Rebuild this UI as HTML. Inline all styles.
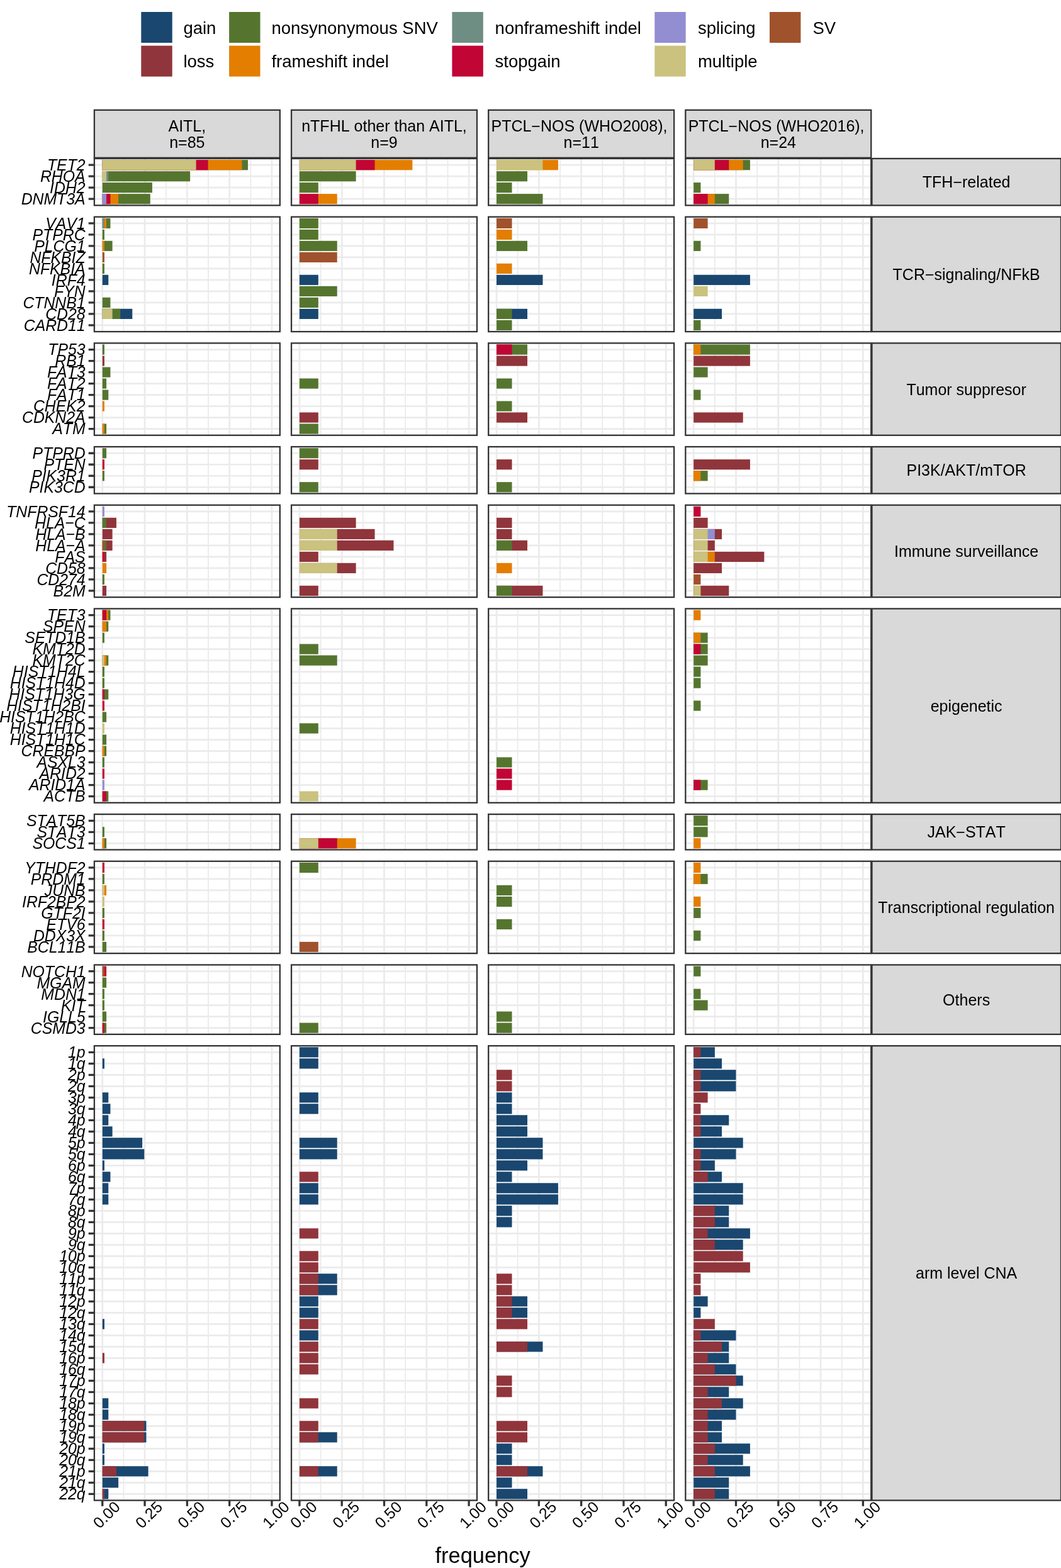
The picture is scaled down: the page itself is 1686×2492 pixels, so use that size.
<!DOCTYPE html>
<html><head><meta charset="utf-8"><title>mutation frequency</title>
<style>
html,body{margin:0;padding:0;background:#fff;}
body{width:1686px;height:2492px;overflow:hidden;}
svg{display:block;}
text{font-kerning:none;font-family:"Liberation Sans",sans-serif;fill:#000;}
.lg{font-size:27.5px;}
.st{font-size:25px;text-anchor:middle;}
.yl{font-size:24.8px;font-style:italic;text-anchor:end;}
.xl{font-size:24.8px;text-anchor:middle;}
.ti{font-size:34.4px;text-anchor:middle;}
</style></head><body>
<svg width="1686" height="2492" viewBox="0 0 1686 2492">
<rect width="1686" height="2492" fill="#ffffff"/>
<rect x="224.3" y="19" width="49.4" height="49" fill="#1a476f"/>
<text x="291.4" y="53.5" class="lg">gain</text>
<rect x="224.3" y="72.65" width="49.4" height="49" fill="#90353b"/>
<text x="291.4" y="107.15" class="lg">loss</text>
<rect x="364.1" y="19" width="49.4" height="49" fill="#55752f"/>
<text x="431.4" y="53.5" class="lg">nonsynonymous SNV</text>
<rect x="364.1" y="72.65" width="49.4" height="49" fill="#e37e00"/>
<text x="431.4" y="107.15" class="lg">frameshift indel</text>
<rect x="718.4" y="19" width="49.4" height="49" fill="#6e8e84"/>
<text x="786.6" y="53.5" class="lg">nonframeshift indel</text>
<rect x="718.4" y="72.65" width="49.4" height="49" fill="#c10534"/>
<text x="786.6" y="107.15" class="lg">stopgain</text>
<rect x="1040.3" y="19" width="49.4" height="49" fill="#938dd2"/>
<text x="1108.9" y="53.5" class="lg">splicing</text>
<rect x="1040.3" y="72.65" width="49.4" height="49" fill="#cac27e"/>
<text x="1108.9" y="107.15" class="lg">multiple</text>
<rect x="1223" y="19" width="49.4" height="49" fill="#a0522d"/>
<text x="1291.5" y="53.5" class="lg">SV</text>
<rect x="149.29" y="174.3" width="296.12" height="77.1" fill="#D9D9D9"/>
<rect x="462.44" y="174.3" width="296.12" height="77.1" fill="#D9D9D9"/>
<rect x="775.59" y="174.3" width="296.12" height="77.1" fill="#D9D9D9"/>
<rect x="1088.74" y="174.3" width="296.12" height="77.1" fill="#D9D9D9"/>
<rect x="149.89" y="174.9" width="294.92" height="75.9" fill="none" stroke="#333333" stroke-width="2.3"/>
<text x="297.35" y="208.9" class="st">AITL,</text>
<text x="297.35" y="235" class="st">n=85</text>
<rect x="463.04" y="174.9" width="294.92" height="75.9" fill="none" stroke="#333333" stroke-width="2.3"/>
<text x="610.5" y="208.9" class="st">nTFHL other than AITL,</text>
<text x="610.5" y="235" class="st">n=9</text>
<rect x="776.19" y="174.9" width="294.92" height="75.9" fill="none" stroke="#333333" stroke-width="2.3"/>
<text x="920.45" y="208.9" class="st">PTCL−NOS (WHO2008),</text>
<text x="923.65" y="235" class="st">n=11</text>
<rect x="1089.34" y="174.9" width="294.92" height="75.9" fill="none" stroke="#333333" stroke-width="2.3"/>
<text x="1233.6" y="208.9" class="st">PTCL−NOS (WHO2016),</text>
<text x="1236.8" y="235" class="st">n=24</text>
<rect x="149.29" y="251.4" width="296.12" height="75.6" fill="#ffffff"/>
<path d="M196.4 251.4V327M263.7 251.4V327M331 251.4V327M398.3 251.4V327" stroke="#EBEBEB" stroke-width="1.8" fill="none"/>
<path d="M162.75 251.4V327M230.05 251.4V327M297.35 251.4V327M364.65 251.4V327M431.95 251.4V327M149.29 262.2H445.41M149.29 280.2H445.41M149.29 298.2H445.41M149.29 316.2H445.41" stroke="#EBEBEB" stroke-width="2.7" fill="none"/>
<rect x="162.75" y="254.1" width="231.2" height="16.2" fill="#55752f"/>
<rect x="162.75" y="254.1" width="221.69" height="16.2" fill="#e37e00"/>
<rect x="162.75" y="254.1" width="167.85" height="16.2" fill="#c10534"/>
<rect x="162.75" y="254.1" width="148.85" height="16.2" fill="#cac27e"/>
<rect x="162.75" y="272.1" width="139.35" height="16.2" fill="#55752f"/>
<rect x="162.75" y="272.1" width="9.5" height="16.2" fill="#6e8e84"/>
<rect x="162.75" y="272.1" width="6.33" height="16.2" fill="#cac27e"/>
<rect x="162.75" y="290.1" width="79.18" height="16.2" fill="#55752f"/>
<rect x="162.75" y="308.1" width="76.01" height="16.2" fill="#55752f"/>
<rect x="162.75" y="308.1" width="25.34" height="16.2" fill="#e37e00"/>
<rect x="162.75" y="308.1" width="12.67" height="16.2" fill="#c10534"/>
<rect x="162.75" y="308.1" width="6.33" height="16.2" fill="#938dd2"/>
<rect x="149.89" y="252" width="294.92" height="74.4" fill="none" stroke="#333333" stroke-width="2.3"/>
<rect x="462.44" y="251.4" width="296.12" height="75.6" fill="#ffffff"/>
<path d="M509.55 251.4V327M576.85 251.4V327M644.15 251.4V327M711.45 251.4V327" stroke="#EBEBEB" stroke-width="1.8" fill="none"/>
<path d="M475.9 251.4V327M543.2 251.4V327M610.5 251.4V327M677.8 251.4V327M745.1 251.4V327M462.44 262.2H758.56M462.44 280.2H758.56M462.44 298.2H758.56M462.44 316.2H758.56" stroke="#EBEBEB" stroke-width="2.7" fill="none"/>
<rect x="475.9" y="254.1" width="179.47" height="16.2" fill="#e37e00"/>
<rect x="475.9" y="254.1" width="119.64" height="16.2" fill="#c10534"/>
<rect x="475.9" y="254.1" width="89.73" height="16.2" fill="#cac27e"/>
<rect x="475.9" y="272.1" width="89.73" height="16.2" fill="#55752f"/>
<rect x="475.9" y="290.1" width="29.91" height="16.2" fill="#55752f"/>
<rect x="475.9" y="308.1" width="59.82" height="16.2" fill="#e37e00"/>
<rect x="475.9" y="308.1" width="29.91" height="16.2" fill="#c10534"/>
<rect x="463.04" y="252" width="294.92" height="74.4" fill="none" stroke="#333333" stroke-width="2.3"/>
<rect x="775.59" y="251.4" width="296.12" height="75.6" fill="#ffffff"/>
<path d="M822.7 251.4V327M890 251.4V327M957.3 251.4V327M1024.6 251.4V327" stroke="#EBEBEB" stroke-width="1.8" fill="none"/>
<path d="M789.05 251.4V327M856.35 251.4V327M923.65 251.4V327M990.95 251.4V327M1058.25 251.4V327M775.59 262.2H1071.71M775.59 280.2H1071.71M775.59 298.2H1071.71M775.59 316.2H1071.71" stroke="#EBEBEB" stroke-width="2.7" fill="none"/>
<rect x="789.05" y="254.1" width="97.89" height="16.2" fill="#e37e00"/>
<rect x="789.05" y="254.1" width="73.42" height="16.2" fill="#cac27e"/>
<rect x="789.05" y="272.1" width="48.95" height="16.2" fill="#55752f"/>
<rect x="789.05" y="290.1" width="24.47" height="16.2" fill="#55752f"/>
<rect x="789.05" y="308.1" width="73.42" height="16.2" fill="#55752f"/>
<rect x="776.19" y="252" width="294.92" height="74.4" fill="none" stroke="#333333" stroke-width="2.3"/>
<rect x="1088.74" y="251.4" width="296.12" height="75.6" fill="#ffffff"/>
<path d="M1135.85 251.4V327M1203.15 251.4V327M1270.45 251.4V327M1337.75 251.4V327" stroke="#EBEBEB" stroke-width="1.8" fill="none"/>
<path d="M1102.2 251.4V327M1169.5 251.4V327M1236.8 251.4V327M1304.1 251.4V327M1371.4 251.4V327M1088.74 262.2H1384.86M1088.74 280.2H1384.86M1088.74 298.2H1384.86M1088.74 316.2H1384.86" stroke="#EBEBEB" stroke-width="2.7" fill="none"/>
<rect x="1102.2" y="254.1" width="89.73" height="16.2" fill="#55752f"/>
<rect x="1102.2" y="254.1" width="78.52" height="16.2" fill="#e37e00"/>
<rect x="1102.2" y="254.1" width="56.08" height="16.2" fill="#c10534"/>
<rect x="1102.2" y="254.1" width="33.65" height="16.2" fill="#cac27e"/>
<rect x="1102.2" y="290.1" width="11.22" height="16.2" fill="#55752f"/>
<rect x="1102.2" y="308.1" width="56.08" height="16.2" fill="#55752f"/>
<rect x="1102.2" y="308.1" width="33.65" height="16.2" fill="#e37e00"/>
<rect x="1102.2" y="308.1" width="22.43" height="16.2" fill="#c10534"/>
<rect x="1089.34" y="252" width="294.92" height="74.4" fill="none" stroke="#333333" stroke-width="2.3"/>
<rect x="1384.86" y="251.4" width="301.74" height="75.6" fill="#D9D9D9"/>
<rect x="1385.46" y="252" width="300.54" height="74.4" fill="none" stroke="#333333" stroke-width="2.3"/>
<text x="1535.63" y="298.15" class="st">TFH−related</text>
<path d="M140.69 262.2H149.29M140.69 280.2H149.29M140.69 298.2H149.29M140.69 316.2H149.29" stroke="#333333" stroke-width="3.3" fill="none"/>
<text transform="translate(135.59 271.08) scale(1 1.044)" class="yl">TET2</text>
<text transform="translate(135.59 289.08) scale(1 1.044)" class="yl">RHOA</text>
<text transform="translate(135.59 307.08) scale(1 1.044)" class="yl">IDH2</text>
<text transform="translate(135.59 325.08) scale(1 1.044)" class="yl">DNMT3A</text>
<rect x="149.29" y="344.08" width="296.12" height="183.6" fill="#ffffff"/>
<path d="M196.4 344.08V527.68M263.7 344.08V527.68M331 344.08V527.68M398.3 344.08V527.68" stroke="#EBEBEB" stroke-width="1.8" fill="none"/>
<path d="M162.75 344.08V527.68M230.05 344.08V527.68M297.35 344.08V527.68M364.65 344.08V527.68M431.95 344.08V527.68M149.29 354.88H445.41M149.29 372.88H445.41M149.29 390.88H445.41M149.29 408.88H445.41M149.29 426.88H445.41M149.29 444.88H445.41M149.29 462.88H445.41M149.29 480.88H445.41M149.29 498.88H445.41M149.29 516.88H445.41" stroke="#EBEBEB" stroke-width="2.7" fill="none"/>
<rect x="162.75" y="346.78" width="12.67" height="16.2" fill="#55752f"/>
<rect x="162.75" y="346.78" width="6.33" height="16.2" fill="#e37e00"/>
<rect x="162.75" y="346.78" width="3.17" height="16.2" fill="#6e8e84"/>
<rect x="162.75" y="364.78" width="3.17" height="16.2" fill="#55752f"/>
<rect x="162.75" y="382.78" width="15.84" height="16.2" fill="#55752f"/>
<rect x="162.75" y="382.78" width="3.17" height="16.2" fill="#e37e00"/>
<rect x="162.75" y="400.78" width="3.17" height="16.2" fill="#a0522d"/>
<rect x="162.75" y="418.78" width="3.17" height="16.2" fill="#55752f"/>
<rect x="162.75" y="436.78" width="9.5" height="16.2" fill="#1a476f"/>
<rect x="162.75" y="472.78" width="12.67" height="16.2" fill="#55752f"/>
<rect x="162.75" y="490.78" width="47.51" height="16.2" fill="#1a476f"/>
<rect x="162.75" y="490.78" width="28.5" height="16.2" fill="#55752f"/>
<rect x="162.75" y="490.78" width="15.84" height="16.2" fill="#cac27e"/>
<rect x="149.89" y="344.68" width="294.92" height="182.4" fill="none" stroke="#333333" stroke-width="2.3"/>
<rect x="462.44" y="344.08" width="296.12" height="183.6" fill="#ffffff"/>
<path d="M509.55 344.08V527.68M576.85 344.08V527.68M644.15 344.08V527.68M711.45 344.08V527.68" stroke="#EBEBEB" stroke-width="1.8" fill="none"/>
<path d="M475.9 344.08V527.68M543.2 344.08V527.68M610.5 344.08V527.68M677.8 344.08V527.68M745.1 344.08V527.68M462.44 354.88H758.56M462.44 372.88H758.56M462.44 390.88H758.56M462.44 408.88H758.56M462.44 426.88H758.56M462.44 444.88H758.56M462.44 462.88H758.56M462.44 480.88H758.56M462.44 498.88H758.56M462.44 516.88H758.56" stroke="#EBEBEB" stroke-width="2.7" fill="none"/>
<rect x="475.9" y="346.78" width="29.91" height="16.2" fill="#55752f"/>
<rect x="475.9" y="364.78" width="29.91" height="16.2" fill="#55752f"/>
<rect x="475.9" y="382.78" width="59.82" height="16.2" fill="#55752f"/>
<rect x="475.9" y="400.78" width="59.82" height="16.2" fill="#a0522d"/>
<rect x="475.9" y="436.78" width="29.91" height="16.2" fill="#1a476f"/>
<rect x="475.9" y="454.78" width="59.82" height="16.2" fill="#55752f"/>
<rect x="475.9" y="472.78" width="29.91" height="16.2" fill="#55752f"/>
<rect x="475.9" y="490.78" width="29.91" height="16.2" fill="#1a476f"/>
<rect x="463.04" y="344.68" width="294.92" height="182.4" fill="none" stroke="#333333" stroke-width="2.3"/>
<rect x="775.59" y="344.08" width="296.12" height="183.6" fill="#ffffff"/>
<path d="M822.7 344.08V527.68M890 344.08V527.68M957.3 344.08V527.68M1024.6 344.08V527.68" stroke="#EBEBEB" stroke-width="1.8" fill="none"/>
<path d="M789.05 344.08V527.68M856.35 344.08V527.68M923.65 344.08V527.68M990.95 344.08V527.68M1058.25 344.08V527.68M775.59 354.88H1071.71M775.59 372.88H1071.71M775.59 390.88H1071.71M775.59 408.88H1071.71M775.59 426.88H1071.71M775.59 444.88H1071.71M775.59 462.88H1071.71M775.59 480.88H1071.71M775.59 498.88H1071.71M775.59 516.88H1071.71" stroke="#EBEBEB" stroke-width="2.7" fill="none"/>
<rect x="789.05" y="346.78" width="24.47" height="16.2" fill="#a0522d"/>
<rect x="789.05" y="364.78" width="24.47" height="16.2" fill="#e37e00"/>
<rect x="789.05" y="382.78" width="48.95" height="16.2" fill="#55752f"/>
<rect x="789.05" y="418.78" width="24.47" height="16.2" fill="#e37e00"/>
<rect x="789.05" y="436.78" width="73.42" height="16.2" fill="#1a476f"/>
<rect x="789.05" y="490.78" width="48.95" height="16.2" fill="#1a476f"/>
<rect x="789.05" y="490.78" width="24.47" height="16.2" fill="#55752f"/>
<rect x="789.05" y="508.78" width="24.47" height="16.2" fill="#55752f"/>
<rect x="776.19" y="344.68" width="294.92" height="182.4" fill="none" stroke="#333333" stroke-width="2.3"/>
<rect x="1088.74" y="344.08" width="296.12" height="183.6" fill="#ffffff"/>
<path d="M1135.85 344.08V527.68M1203.15 344.08V527.68M1270.45 344.08V527.68M1337.75 344.08V527.68" stroke="#EBEBEB" stroke-width="1.8" fill="none"/>
<path d="M1102.2 344.08V527.68M1169.5 344.08V527.68M1236.8 344.08V527.68M1304.1 344.08V527.68M1371.4 344.08V527.68M1088.74 354.88H1384.86M1088.74 372.88H1384.86M1088.74 390.88H1384.86M1088.74 408.88H1384.86M1088.74 426.88H1384.86M1088.74 444.88H1384.86M1088.74 462.88H1384.86M1088.74 480.88H1384.86M1088.74 498.88H1384.86M1088.74 516.88H1384.86" stroke="#EBEBEB" stroke-width="2.7" fill="none"/>
<rect x="1102.2" y="346.78" width="22.43" height="16.2" fill="#a0522d"/>
<rect x="1102.2" y="382.78" width="11.22" height="16.2" fill="#55752f"/>
<rect x="1102.2" y="436.78" width="89.73" height="16.2" fill="#1a476f"/>
<rect x="1102.2" y="454.78" width="22.43" height="16.2" fill="#cac27e"/>
<rect x="1102.2" y="490.78" width="44.87" height="16.2" fill="#1a476f"/>
<rect x="1102.2" y="508.78" width="11.22" height="16.2" fill="#55752f"/>
<rect x="1089.34" y="344.68" width="294.92" height="182.4" fill="none" stroke="#333333" stroke-width="2.3"/>
<rect x="1384.86" y="344.08" width="301.74" height="183.6" fill="#D9D9D9"/>
<rect x="1385.46" y="344.68" width="300.54" height="182.4" fill="none" stroke="#333333" stroke-width="2.3"/>
<text x="1535.63" y="444.83" class="st">TCR−signaling/NFkB</text>
<path d="M140.69 354.88H149.29M140.69 372.88H149.29M140.69 390.88H149.29M140.69 408.88H149.29M140.69 426.88H149.29M140.69 444.88H149.29M140.69 462.88H149.29M140.69 480.88H149.29M140.69 498.88H149.29M140.69 516.88H149.29" stroke="#333333" stroke-width="3.3" fill="none"/>
<text transform="translate(135.59 363.76) scale(1 1.044)" class="yl">VAV1</text>
<text transform="translate(135.59 381.76) scale(1 1.044)" class="yl">PTPRC</text>
<text transform="translate(135.59 399.76) scale(1 1.044)" class="yl">PLCG1</text>
<text transform="translate(135.59 417.76) scale(1 1.044)" class="yl">NFKBIZ</text>
<text transform="translate(135.59 435.76) scale(1 1.044)" class="yl">NFKBIA</text>
<text transform="translate(135.59 453.76) scale(1 1.044)" class="yl">IRF4</text>
<text transform="translate(135.59 471.76) scale(1 1.044)" class="yl">FYN</text>
<text transform="translate(135.59 489.76) scale(1 1.044)" class="yl">CTNNB1</text>
<text transform="translate(135.59 507.76) scale(1 1.044)" class="yl">CD28</text>
<text transform="translate(135.59 525.76) scale(1 1.044)" class="yl">CARD11</text>
<rect x="149.29" y="544.76" width="296.12" height="147.6" fill="#ffffff"/>
<path d="M196.4 544.76V692.36M263.7 544.76V692.36M331 544.76V692.36M398.3 544.76V692.36" stroke="#EBEBEB" stroke-width="1.8" fill="none"/>
<path d="M162.75 544.76V692.36M230.05 544.76V692.36M297.35 544.76V692.36M364.65 544.76V692.36M431.95 544.76V692.36M149.29 555.56H445.41M149.29 573.56H445.41M149.29 591.56H445.41M149.29 609.56H445.41M149.29 627.56H445.41M149.29 645.56H445.41M149.29 663.56H445.41M149.29 681.56H445.41" stroke="#EBEBEB" stroke-width="2.7" fill="none"/>
<rect x="162.75" y="547.46" width="3.17" height="16.2" fill="#55752f"/>
<rect x="162.75" y="565.46" width="3.17" height="16.2" fill="#90353b"/>
<rect x="162.75" y="583.46" width="12.67" height="16.2" fill="#55752f"/>
<rect x="162.75" y="601.46" width="6.33" height="16.2" fill="#55752f"/>
<rect x="162.75" y="619.46" width="9.5" height="16.2" fill="#55752f"/>
<rect x="162.75" y="637.46" width="3.17" height="16.2" fill="#e37e00"/>
<rect x="162.75" y="673.46" width="6.33" height="16.2" fill="#55752f"/>
<rect x="162.75" y="673.46" width="3.17" height="16.2" fill="#e37e00"/>
<rect x="149.89" y="545.36" width="294.92" height="146.4" fill="none" stroke="#333333" stroke-width="2.3"/>
<rect x="462.44" y="544.76" width="296.12" height="147.6" fill="#ffffff"/>
<path d="M509.55 544.76V692.36M576.85 544.76V692.36M644.15 544.76V692.36M711.45 544.76V692.36" stroke="#EBEBEB" stroke-width="1.8" fill="none"/>
<path d="M475.9 544.76V692.36M543.2 544.76V692.36M610.5 544.76V692.36M677.8 544.76V692.36M745.1 544.76V692.36M462.44 555.56H758.56M462.44 573.56H758.56M462.44 591.56H758.56M462.44 609.56H758.56M462.44 627.56H758.56M462.44 645.56H758.56M462.44 663.56H758.56M462.44 681.56H758.56" stroke="#EBEBEB" stroke-width="2.7" fill="none"/>
<rect x="475.9" y="601.46" width="29.91" height="16.2" fill="#55752f"/>
<rect x="475.9" y="655.46" width="29.91" height="16.2" fill="#90353b"/>
<rect x="475.9" y="673.46" width="29.91" height="16.2" fill="#55752f"/>
<rect x="463.04" y="545.36" width="294.92" height="146.4" fill="none" stroke="#333333" stroke-width="2.3"/>
<rect x="775.59" y="544.76" width="296.12" height="147.6" fill="#ffffff"/>
<path d="M822.7 544.76V692.36M890 544.76V692.36M957.3 544.76V692.36M1024.6 544.76V692.36" stroke="#EBEBEB" stroke-width="1.8" fill="none"/>
<path d="M789.05 544.76V692.36M856.35 544.76V692.36M923.65 544.76V692.36M990.95 544.76V692.36M1058.25 544.76V692.36M775.59 555.56H1071.71M775.59 573.56H1071.71M775.59 591.56H1071.71M775.59 609.56H1071.71M775.59 627.56H1071.71M775.59 645.56H1071.71M775.59 663.56H1071.71M775.59 681.56H1071.71" stroke="#EBEBEB" stroke-width="2.7" fill="none"/>
<rect x="789.05" y="547.46" width="48.95" height="16.2" fill="#55752f"/>
<rect x="789.05" y="547.46" width="24.47" height="16.2" fill="#c10534"/>
<rect x="789.05" y="565.46" width="48.95" height="16.2" fill="#90353b"/>
<rect x="789.05" y="601.46" width="24.47" height="16.2" fill="#55752f"/>
<rect x="789.05" y="637.46" width="24.47" height="16.2" fill="#55752f"/>
<rect x="789.05" y="655.46" width="48.95" height="16.2" fill="#90353b"/>
<rect x="776.19" y="545.36" width="294.92" height="146.4" fill="none" stroke="#333333" stroke-width="2.3"/>
<rect x="1088.74" y="544.76" width="296.12" height="147.6" fill="#ffffff"/>
<path d="M1135.85 544.76V692.36M1203.15 544.76V692.36M1270.45 544.76V692.36M1337.75 544.76V692.36" stroke="#EBEBEB" stroke-width="1.8" fill="none"/>
<path d="M1102.2 544.76V692.36M1169.5 544.76V692.36M1236.8 544.76V692.36M1304.1 544.76V692.36M1371.4 544.76V692.36M1088.74 555.56H1384.86M1088.74 573.56H1384.86M1088.74 591.56H1384.86M1088.74 609.56H1384.86M1088.74 627.56H1384.86M1088.74 645.56H1384.86M1088.74 663.56H1384.86M1088.74 681.56H1384.86" stroke="#EBEBEB" stroke-width="2.7" fill="none"/>
<rect x="1102.2" y="547.46" width="89.73" height="16.2" fill="#55752f"/>
<rect x="1102.2" y="547.46" width="11.22" height="16.2" fill="#e37e00"/>
<rect x="1102.2" y="565.46" width="89.73" height="16.2" fill="#90353b"/>
<rect x="1102.2" y="583.46" width="22.43" height="16.2" fill="#55752f"/>
<rect x="1102.2" y="619.46" width="11.22" height="16.2" fill="#55752f"/>
<rect x="1102.2" y="655.46" width="78.52" height="16.2" fill="#90353b"/>
<rect x="1089.34" y="545.36" width="294.92" height="146.4" fill="none" stroke="#333333" stroke-width="2.3"/>
<rect x="1384.86" y="544.76" width="301.74" height="147.6" fill="#D9D9D9"/>
<rect x="1385.46" y="545.36" width="300.54" height="146.4" fill="none" stroke="#333333" stroke-width="2.3"/>
<text x="1535.63" y="627.51" class="st">Tumor suppresor</text>
<path d="M140.69 555.56H149.29M140.69 573.56H149.29M140.69 591.56H149.29M140.69 609.56H149.29M140.69 627.56H149.29M140.69 645.56H149.29M140.69 663.56H149.29M140.69 681.56H149.29" stroke="#333333" stroke-width="3.3" fill="none"/>
<text transform="translate(135.59 564.44) scale(1 1.044)" class="yl">TP53</text>
<text transform="translate(135.59 582.44) scale(1 1.044)" class="yl">RB1</text>
<text transform="translate(135.59 600.44) scale(1 1.044)" class="yl">FAT3</text>
<text transform="translate(135.59 618.44) scale(1 1.044)" class="yl">FAT2</text>
<text transform="translate(135.59 636.44) scale(1 1.044)" class="yl">FAT1</text>
<text transform="translate(135.59 654.44) scale(1 1.044)" class="yl">CHEK2</text>
<text transform="translate(135.59 672.44) scale(1 1.044)" class="yl">CDKN2A</text>
<text transform="translate(135.59 690.44) scale(1 1.044)" class="yl">ATM</text>
<rect x="149.29" y="709.44" width="296.12" height="75.6" fill="#ffffff"/>
<path d="M196.4 709.44V785.04M263.7 709.44V785.04M331 709.44V785.04M398.3 709.44V785.04" stroke="#EBEBEB" stroke-width="1.8" fill="none"/>
<path d="M162.75 709.44V785.04M230.05 709.44V785.04M297.35 709.44V785.04M364.65 709.44V785.04M431.95 709.44V785.04M149.29 720.24H445.41M149.29 738.24H445.41M149.29 756.24H445.41M149.29 774.24H445.41" stroke="#EBEBEB" stroke-width="2.7" fill="none"/>
<rect x="162.75" y="712.14" width="6.33" height="16.2" fill="#55752f"/>
<rect x="162.75" y="730.14" width="3.17" height="16.2" fill="#c10534"/>
<rect x="162.75" y="748.14" width="3.17" height="16.2" fill="#55752f"/>
<rect x="149.89" y="710.04" width="294.92" height="74.4" fill="none" stroke="#333333" stroke-width="2.3"/>
<rect x="462.44" y="709.44" width="296.12" height="75.6" fill="#ffffff"/>
<path d="M509.55 709.44V785.04M576.85 709.44V785.04M644.15 709.44V785.04M711.45 709.44V785.04" stroke="#EBEBEB" stroke-width="1.8" fill="none"/>
<path d="M475.9 709.44V785.04M543.2 709.44V785.04M610.5 709.44V785.04M677.8 709.44V785.04M745.1 709.44V785.04M462.44 720.24H758.56M462.44 738.24H758.56M462.44 756.24H758.56M462.44 774.24H758.56" stroke="#EBEBEB" stroke-width="2.7" fill="none"/>
<rect x="475.9" y="712.14" width="29.91" height="16.2" fill="#55752f"/>
<rect x="475.9" y="730.14" width="29.91" height="16.2" fill="#90353b"/>
<rect x="475.9" y="766.14" width="29.91" height="16.2" fill="#55752f"/>
<rect x="463.04" y="710.04" width="294.92" height="74.4" fill="none" stroke="#333333" stroke-width="2.3"/>
<rect x="775.59" y="709.44" width="296.12" height="75.6" fill="#ffffff"/>
<path d="M822.7 709.44V785.04M890 709.44V785.04M957.3 709.44V785.04M1024.6 709.44V785.04" stroke="#EBEBEB" stroke-width="1.8" fill="none"/>
<path d="M789.05 709.44V785.04M856.35 709.44V785.04M923.65 709.44V785.04M990.95 709.44V785.04M1058.25 709.44V785.04M775.59 720.24H1071.71M775.59 738.24H1071.71M775.59 756.24H1071.71M775.59 774.24H1071.71" stroke="#EBEBEB" stroke-width="2.7" fill="none"/>
<rect x="789.05" y="730.14" width="24.47" height="16.2" fill="#90353b"/>
<rect x="789.05" y="766.14" width="24.47" height="16.2" fill="#55752f"/>
<rect x="776.19" y="710.04" width="294.92" height="74.4" fill="none" stroke="#333333" stroke-width="2.3"/>
<rect x="1088.74" y="709.44" width="296.12" height="75.6" fill="#ffffff"/>
<path d="M1135.85 709.44V785.04M1203.15 709.44V785.04M1270.45 709.44V785.04M1337.75 709.44V785.04" stroke="#EBEBEB" stroke-width="1.8" fill="none"/>
<path d="M1102.2 709.44V785.04M1169.5 709.44V785.04M1236.8 709.44V785.04M1304.1 709.44V785.04M1371.4 709.44V785.04M1088.74 720.24H1384.86M1088.74 738.24H1384.86M1088.74 756.24H1384.86M1088.74 774.24H1384.86" stroke="#EBEBEB" stroke-width="2.7" fill="none"/>
<rect x="1102.2" y="730.14" width="89.73" height="16.2" fill="#90353b"/>
<rect x="1102.2" y="748.14" width="22.43" height="16.2" fill="#55752f"/>
<rect x="1102.2" y="748.14" width="11.22" height="16.2" fill="#e37e00"/>
<rect x="1089.34" y="710.04" width="294.92" height="74.4" fill="none" stroke="#333333" stroke-width="2.3"/>
<rect x="1384.86" y="709.44" width="301.74" height="75.6" fill="#D9D9D9"/>
<rect x="1385.46" y="710.04" width="300.54" height="74.4" fill="none" stroke="#333333" stroke-width="2.3"/>
<text x="1535.63" y="756.19" class="st">PI3K/AKT/mTOR</text>
<path d="M140.69 720.24H149.29M140.69 738.24H149.29M140.69 756.24H149.29M140.69 774.24H149.29" stroke="#333333" stroke-width="3.3" fill="none"/>
<text transform="translate(135.59 729.12) scale(1 1.044)" class="yl">PTPRD</text>
<text transform="translate(135.59 747.12) scale(1 1.044)" class="yl">PTEN</text>
<text transform="translate(135.59 765.12) scale(1 1.044)" class="yl">PIK3R1</text>
<text transform="translate(135.59 783.12) scale(1 1.044)" class="yl">PIK3CD</text>
<rect x="149.29" y="802.12" width="296.12" height="147.6" fill="#ffffff"/>
<path d="M196.4 802.12V949.72M263.7 802.12V949.72M331 802.12V949.72M398.3 802.12V949.72" stroke="#EBEBEB" stroke-width="1.8" fill="none"/>
<path d="M162.75 802.12V949.72M230.05 802.12V949.72M297.35 802.12V949.72M364.65 802.12V949.72M431.95 802.12V949.72M149.29 812.92H445.41M149.29 830.92H445.41M149.29 848.92H445.41M149.29 866.92H445.41M149.29 884.92H445.41M149.29 902.92H445.41M149.29 920.92H445.41M149.29 938.92H445.41" stroke="#EBEBEB" stroke-width="2.7" fill="none"/>
<rect x="162.75" y="804.82" width="3.17" height="16.2" fill="#938dd2"/>
<rect x="162.75" y="822.82" width="22.17" height="16.2" fill="#90353b"/>
<rect x="162.75" y="822.82" width="6.33" height="16.2" fill="#55752f"/>
<rect x="162.75" y="840.82" width="15.84" height="16.2" fill="#90353b"/>
<rect x="162.75" y="858.82" width="15.84" height="16.2" fill="#90353b"/>
<rect x="162.75" y="858.82" width="6.33" height="16.2" fill="#55752f"/>
<rect x="162.75" y="858.82" width="3.17" height="16.2" fill="#a0522d"/>
<rect x="162.75" y="876.82" width="6.33" height="16.2" fill="#90353b"/>
<rect x="162.75" y="876.82" width="3.17" height="16.2" fill="#c10534"/>
<rect x="162.75" y="894.82" width="6.33" height="16.2" fill="#e37e00"/>
<rect x="162.75" y="912.82" width="3.17" height="16.2" fill="#55752f"/>
<rect x="162.75" y="930.82" width="6.33" height="16.2" fill="#90353b"/>
<rect x="149.89" y="802.72" width="294.92" height="146.4" fill="none" stroke="#333333" stroke-width="2.3"/>
<rect x="462.44" y="802.12" width="296.12" height="147.6" fill="#ffffff"/>
<path d="M509.55 802.12V949.72M576.85 802.12V949.72M644.15 802.12V949.72M711.45 802.12V949.72" stroke="#EBEBEB" stroke-width="1.8" fill="none"/>
<path d="M475.9 802.12V949.72M543.2 802.12V949.72M610.5 802.12V949.72M677.8 802.12V949.72M745.1 802.12V949.72M462.44 812.92H758.56M462.44 830.92H758.56M462.44 848.92H758.56M462.44 866.92H758.56M462.44 884.92H758.56M462.44 902.92H758.56M462.44 920.92H758.56M462.44 938.92H758.56" stroke="#EBEBEB" stroke-width="2.7" fill="none"/>
<rect x="475.9" y="822.82" width="89.73" height="16.2" fill="#90353b"/>
<rect x="475.9" y="840.82" width="119.64" height="16.2" fill="#90353b"/>
<rect x="475.9" y="840.82" width="59.82" height="16.2" fill="#cac27e"/>
<rect x="475.9" y="858.82" width="149.56" height="16.2" fill="#90353b"/>
<rect x="475.9" y="858.82" width="59.82" height="16.2" fill="#cac27e"/>
<rect x="475.9" y="876.82" width="29.91" height="16.2" fill="#90353b"/>
<rect x="475.9" y="894.82" width="89.73" height="16.2" fill="#90353b"/>
<rect x="475.9" y="894.82" width="59.82" height="16.2" fill="#cac27e"/>
<rect x="475.9" y="930.82" width="29.91" height="16.2" fill="#90353b"/>
<rect x="463.04" y="802.72" width="294.92" height="146.4" fill="none" stroke="#333333" stroke-width="2.3"/>
<rect x="775.59" y="802.12" width="296.12" height="147.6" fill="#ffffff"/>
<path d="M822.7 802.12V949.72M890 802.12V949.72M957.3 802.12V949.72M1024.6 802.12V949.72" stroke="#EBEBEB" stroke-width="1.8" fill="none"/>
<path d="M789.05 802.12V949.72M856.35 802.12V949.72M923.65 802.12V949.72M990.95 802.12V949.72M1058.25 802.12V949.72M775.59 812.92H1071.71M775.59 830.92H1071.71M775.59 848.92H1071.71M775.59 866.92H1071.71M775.59 884.92H1071.71M775.59 902.92H1071.71M775.59 920.92H1071.71M775.59 938.92H1071.71" stroke="#EBEBEB" stroke-width="2.7" fill="none"/>
<rect x="789.05" y="822.82" width="24.47" height="16.2" fill="#90353b"/>
<rect x="789.05" y="840.82" width="24.47" height="16.2" fill="#90353b"/>
<rect x="789.05" y="858.82" width="48.95" height="16.2" fill="#90353b"/>
<rect x="789.05" y="858.82" width="24.47" height="16.2" fill="#55752f"/>
<rect x="789.05" y="894.82" width="24.47" height="16.2" fill="#e37e00"/>
<rect x="789.05" y="930.82" width="73.42" height="16.2" fill="#90353b"/>
<rect x="789.05" y="930.82" width="24.47" height="16.2" fill="#55752f"/>
<rect x="776.19" y="802.72" width="294.92" height="146.4" fill="none" stroke="#333333" stroke-width="2.3"/>
<rect x="1088.74" y="802.12" width="296.12" height="147.6" fill="#ffffff"/>
<path d="M1135.85 802.12V949.72M1203.15 802.12V949.72M1270.45 802.12V949.72M1337.75 802.12V949.72" stroke="#EBEBEB" stroke-width="1.8" fill="none"/>
<path d="M1102.2 802.12V949.72M1169.5 802.12V949.72M1236.8 802.12V949.72M1304.1 802.12V949.72M1371.4 802.12V949.72M1088.74 812.92H1384.86M1088.74 830.92H1384.86M1088.74 848.92H1384.86M1088.74 866.92H1384.86M1088.74 884.92H1384.86M1088.74 902.92H1384.86M1088.74 920.92H1384.86M1088.74 938.92H1384.86" stroke="#EBEBEB" stroke-width="2.7" fill="none"/>
<rect x="1102.2" y="804.82" width="11.22" height="16.2" fill="#c10534"/>
<rect x="1102.2" y="822.82" width="22.43" height="16.2" fill="#90353b"/>
<rect x="1102.2" y="840.82" width="44.87" height="16.2" fill="#90353b"/>
<rect x="1102.2" y="840.82" width="33.65" height="16.2" fill="#938dd2"/>
<rect x="1102.2" y="840.82" width="22.43" height="16.2" fill="#cac27e"/>
<rect x="1102.2" y="858.82" width="33.65" height="16.2" fill="#90353b"/>
<rect x="1102.2" y="858.82" width="22.43" height="16.2" fill="#cac27e"/>
<rect x="1102.2" y="876.82" width="112.17" height="16.2" fill="#90353b"/>
<rect x="1102.2" y="876.82" width="33.65" height="16.2" fill="#e37e00"/>
<rect x="1102.2" y="876.82" width="22.43" height="16.2" fill="#cac27e"/>
<rect x="1102.2" y="894.82" width="44.87" height="16.2" fill="#90353b"/>
<rect x="1102.2" y="912.82" width="11.22" height="16.2" fill="#a0522d"/>
<rect x="1102.2" y="930.82" width="56.08" height="16.2" fill="#90353b"/>
<rect x="1102.2" y="930.82" width="11.22" height="16.2" fill="#cac27e"/>
<rect x="1089.34" y="802.72" width="294.92" height="146.4" fill="none" stroke="#333333" stroke-width="2.3"/>
<rect x="1384.86" y="802.12" width="301.74" height="147.6" fill="#D9D9D9"/>
<rect x="1385.46" y="802.72" width="300.54" height="146.4" fill="none" stroke="#333333" stroke-width="2.3"/>
<text x="1535.63" y="884.87" class="st">Immune surveillance</text>
<path d="M140.69 812.92H149.29M140.69 830.92H149.29M140.69 848.92H149.29M140.69 866.92H149.29M140.69 884.92H149.29M140.69 902.92H149.29M140.69 920.92H149.29M140.69 938.92H149.29" stroke="#333333" stroke-width="3.3" fill="none"/>
<text transform="translate(135.59 821.8) scale(1 1.044)" class="yl">TNFRSF14</text>
<text transform="translate(135.59 839.8) scale(1 1.044)" class="yl">HLA−C</text>
<text transform="translate(135.59 857.8) scale(1 1.044)" class="yl">HLA−B</text>
<text transform="translate(135.59 875.8) scale(1 1.044)" class="yl">HLA−A</text>
<text transform="translate(135.59 893.8) scale(1 1.044)" class="yl">FAS</text>
<text transform="translate(135.59 911.8) scale(1 1.044)" class="yl">CD58</text>
<text transform="translate(135.59 929.8) scale(1 1.044)" class="yl">CD274</text>
<text transform="translate(135.59 947.8) scale(1 1.044)" class="yl">B2M</text>
<rect x="149.29" y="966.8" width="296.12" height="309.6" fill="#ffffff"/>
<path d="M196.4 966.8V1276.4M263.7 966.8V1276.4M331 966.8V1276.4M398.3 966.8V1276.4" stroke="#EBEBEB" stroke-width="1.8" fill="none"/>
<path d="M162.75 966.8V1276.4M230.05 966.8V1276.4M297.35 966.8V1276.4M364.65 966.8V1276.4M431.95 966.8V1276.4M149.29 977.6H445.41M149.29 995.6H445.41M149.29 1013.6H445.41M149.29 1031.6H445.41M149.29 1049.6H445.41M149.29 1067.6H445.41M149.29 1085.6H445.41M149.29 1103.6H445.41M149.29 1121.6H445.41M149.29 1139.6H445.41M149.29 1157.6H445.41M149.29 1175.6H445.41M149.29 1193.6H445.41M149.29 1211.6H445.41M149.29 1229.6H445.41M149.29 1247.6H445.41M149.29 1265.6H445.41" stroke="#EBEBEB" stroke-width="2.7" fill="none"/>
<rect x="162.75" y="969.5" width="12.67" height="16.2" fill="#55752f"/>
<rect x="162.75" y="969.5" width="9.5" height="16.2" fill="#e37e00"/>
<rect x="162.75" y="969.5" width="6.33" height="16.2" fill="#c10534"/>
<rect x="162.75" y="987.5" width="9.5" height="16.2" fill="#55752f"/>
<rect x="162.75" y="987.5" width="6.33" height="16.2" fill="#e37e00"/>
<rect x="162.75" y="1005.5" width="3.17" height="16.2" fill="#55752f"/>
<rect x="162.75" y="1041.5" width="9.5" height="16.2" fill="#55752f"/>
<rect x="162.75" y="1041.5" width="6.33" height="16.2" fill="#e37e00"/>
<rect x="162.75" y="1041.5" width="3.17" height="16.2" fill="#cac27e"/>
<rect x="162.75" y="1059.5" width="3.17" height="16.2" fill="#55752f"/>
<rect x="162.75" y="1077.5" width="3.17" height="16.2" fill="#55752f"/>
<rect x="162.75" y="1095.5" width="9.5" height="16.2" fill="#55752f"/>
<rect x="162.75" y="1095.5" width="3.17" height="16.2" fill="#c10534"/>
<rect x="162.75" y="1113.5" width="3.17" height="16.2" fill="#c10534"/>
<rect x="162.75" y="1131.5" width="6.33" height="16.2" fill="#55752f"/>
<rect x="162.75" y="1149.5" width="3.17" height="16.2" fill="#cac27e"/>
<rect x="162.75" y="1167.5" width="6.33" height="16.2" fill="#55752f"/>
<rect x="162.75" y="1185.5" width="6.33" height="16.2" fill="#55752f"/>
<rect x="162.75" y="1185.5" width="3.17" height="16.2" fill="#e37e00"/>
<rect x="162.75" y="1203.5" width="3.17" height="16.2" fill="#55752f"/>
<rect x="162.75" y="1221.5" width="3.17" height="16.2" fill="#c10534"/>
<rect x="162.75" y="1239.5" width="3.17" height="16.2" fill="#938dd2"/>
<rect x="162.75" y="1257.5" width="9.5" height="16.2" fill="#55752f"/>
<rect x="162.75" y="1257.5" width="6.33" height="16.2" fill="#c10534"/>
<rect x="149.89" y="967.4" width="294.92" height="308.4" fill="none" stroke="#333333" stroke-width="2.3"/>
<rect x="462.44" y="966.8" width="296.12" height="309.6" fill="#ffffff"/>
<path d="M509.55 966.8V1276.4M576.85 966.8V1276.4M644.15 966.8V1276.4M711.45 966.8V1276.4" stroke="#EBEBEB" stroke-width="1.8" fill="none"/>
<path d="M475.9 966.8V1276.4M543.2 966.8V1276.4M610.5 966.8V1276.4M677.8 966.8V1276.4M745.1 966.8V1276.4M462.44 977.6H758.56M462.44 995.6H758.56M462.44 1013.6H758.56M462.44 1031.6H758.56M462.44 1049.6H758.56M462.44 1067.6H758.56M462.44 1085.6H758.56M462.44 1103.6H758.56M462.44 1121.6H758.56M462.44 1139.6H758.56M462.44 1157.6H758.56M462.44 1175.6H758.56M462.44 1193.6H758.56M462.44 1211.6H758.56M462.44 1229.6H758.56M462.44 1247.6H758.56M462.44 1265.6H758.56" stroke="#EBEBEB" stroke-width="2.7" fill="none"/>
<rect x="475.9" y="1023.5" width="29.91" height="16.2" fill="#55752f"/>
<rect x="475.9" y="1041.5" width="59.82" height="16.2" fill="#55752f"/>
<rect x="475.9" y="1149.5" width="29.91" height="16.2" fill="#55752f"/>
<rect x="475.9" y="1257.5" width="29.91" height="16.2" fill="#cac27e"/>
<rect x="463.04" y="967.4" width="294.92" height="308.4" fill="none" stroke="#333333" stroke-width="2.3"/>
<rect x="775.59" y="966.8" width="296.12" height="309.6" fill="#ffffff"/>
<path d="M822.7 966.8V1276.4M890 966.8V1276.4M957.3 966.8V1276.4M1024.6 966.8V1276.4" stroke="#EBEBEB" stroke-width="1.8" fill="none"/>
<path d="M789.05 966.8V1276.4M856.35 966.8V1276.4M923.65 966.8V1276.4M990.95 966.8V1276.4M1058.25 966.8V1276.4M775.59 977.6H1071.71M775.59 995.6H1071.71M775.59 1013.6H1071.71M775.59 1031.6H1071.71M775.59 1049.6H1071.71M775.59 1067.6H1071.71M775.59 1085.6H1071.71M775.59 1103.6H1071.71M775.59 1121.6H1071.71M775.59 1139.6H1071.71M775.59 1157.6H1071.71M775.59 1175.6H1071.71M775.59 1193.6H1071.71M775.59 1211.6H1071.71M775.59 1229.6H1071.71M775.59 1247.6H1071.71M775.59 1265.6H1071.71" stroke="#EBEBEB" stroke-width="2.7" fill="none"/>
<rect x="789.05" y="1203.5" width="24.47" height="16.2" fill="#55752f"/>
<rect x="789.05" y="1221.5" width="24.47" height="16.2" fill="#c10534"/>
<rect x="789.05" y="1239.5" width="24.47" height="16.2" fill="#c10534"/>
<rect x="776.19" y="967.4" width="294.92" height="308.4" fill="none" stroke="#333333" stroke-width="2.3"/>
<rect x="1088.74" y="966.8" width="296.12" height="309.6" fill="#ffffff"/>
<path d="M1135.85 966.8V1276.4M1203.15 966.8V1276.4M1270.45 966.8V1276.4M1337.75 966.8V1276.4" stroke="#EBEBEB" stroke-width="1.8" fill="none"/>
<path d="M1102.2 966.8V1276.4M1169.5 966.8V1276.4M1236.8 966.8V1276.4M1304.1 966.8V1276.4M1371.4 966.8V1276.4M1088.74 977.6H1384.86M1088.74 995.6H1384.86M1088.74 1013.6H1384.86M1088.74 1031.6H1384.86M1088.74 1049.6H1384.86M1088.74 1067.6H1384.86M1088.74 1085.6H1384.86M1088.74 1103.6H1384.86M1088.74 1121.6H1384.86M1088.74 1139.6H1384.86M1088.74 1157.6H1384.86M1088.74 1175.6H1384.86M1088.74 1193.6H1384.86M1088.74 1211.6H1384.86M1088.74 1229.6H1384.86M1088.74 1247.6H1384.86M1088.74 1265.6H1384.86" stroke="#EBEBEB" stroke-width="2.7" fill="none"/>
<rect x="1102.2" y="969.5" width="11.22" height="16.2" fill="#e37e00"/>
<rect x="1102.2" y="1005.5" width="22.43" height="16.2" fill="#55752f"/>
<rect x="1102.2" y="1005.5" width="11.22" height="16.2" fill="#e37e00"/>
<rect x="1102.2" y="1023.5" width="22.43" height="16.2" fill="#55752f"/>
<rect x="1102.2" y="1023.5" width="11.22" height="16.2" fill="#c10534"/>
<rect x="1102.2" y="1041.5" width="22.43" height="16.2" fill="#55752f"/>
<rect x="1102.2" y="1059.5" width="11.22" height="16.2" fill="#55752f"/>
<rect x="1102.2" y="1077.5" width="11.22" height="16.2" fill="#55752f"/>
<rect x="1102.2" y="1113.5" width="11.22" height="16.2" fill="#55752f"/>
<rect x="1102.2" y="1239.5" width="22.43" height="16.2" fill="#55752f"/>
<rect x="1102.2" y="1239.5" width="11.22" height="16.2" fill="#c10534"/>
<rect x="1089.34" y="967.4" width="294.92" height="308.4" fill="none" stroke="#333333" stroke-width="2.3"/>
<rect x="1384.86" y="966.8" width="301.74" height="309.6" fill="#D9D9D9"/>
<rect x="1385.46" y="967.4" width="300.54" height="308.4" fill="none" stroke="#333333" stroke-width="2.3"/>
<text x="1535.63" y="1130.55" class="st">epigenetic</text>
<path d="M140.69 977.6H149.29M140.69 995.6H149.29M140.69 1013.6H149.29M140.69 1031.6H149.29M140.69 1049.6H149.29M140.69 1067.6H149.29M140.69 1085.6H149.29M140.69 1103.6H149.29M140.69 1121.6H149.29M140.69 1139.6H149.29M140.69 1157.6H149.29M140.69 1175.6H149.29M140.69 1193.6H149.29M140.69 1211.6H149.29M140.69 1229.6H149.29M140.69 1247.6H149.29M140.69 1265.6H149.29" stroke="#333333" stroke-width="3.3" fill="none"/>
<text transform="translate(135.59 986.48) scale(1 1.044)" class="yl">TET3</text>
<text transform="translate(135.59 1004.48) scale(1 1.044)" class="yl">SPEN</text>
<text transform="translate(135.59 1022.48) scale(1 1.044)" class="yl">SETD1B</text>
<text transform="translate(135.59 1040.48) scale(1 1.044)" class="yl">KMT2D</text>
<text transform="translate(135.59 1058.48) scale(1 1.044)" class="yl">KMT2C</text>
<text transform="translate(135.59 1076.48) scale(1 1.044)" class="yl">HIST1H4L</text>
<text transform="translate(135.59 1094.48) scale(1 1.044)" class="yl">HIST1H4D</text>
<text transform="translate(135.59 1112.48) scale(1 1.044)" class="yl">HIST1H3G</text>
<text transform="translate(135.59 1130.48) scale(1 1.044)" class="yl">HIST1H2BI</text>
<text transform="translate(135.59 1148.48) scale(1 1.044)" class="yl">HIST1H2BC</text>
<text transform="translate(135.59 1166.48) scale(1 1.044)" class="yl">HIST1H1D</text>
<text transform="translate(135.59 1184.48) scale(1 1.044)" class="yl">HIST1H1C</text>
<text transform="translate(135.59 1202.48) scale(1 1.044)" class="yl">CREBBP</text>
<text transform="translate(135.59 1220.48) scale(1 1.044)" class="yl">ASXL3</text>
<text transform="translate(135.59 1238.48) scale(1 1.044)" class="yl">ARID2</text>
<text transform="translate(135.59 1256.48) scale(1 1.044)" class="yl">ARID1A</text>
<text transform="translate(135.59 1274.48) scale(1 1.044)" class="yl">ACTB</text>
<rect x="149.29" y="1293.48" width="296.12" height="57.6" fill="#ffffff"/>
<path d="M196.4 1293.48V1351.08M263.7 1293.48V1351.08M331 1293.48V1351.08M398.3 1293.48V1351.08" stroke="#EBEBEB" stroke-width="1.8" fill="none"/>
<path d="M162.75 1293.48V1351.08M230.05 1293.48V1351.08M297.35 1293.48V1351.08M364.65 1293.48V1351.08M431.95 1293.48V1351.08M149.29 1304.28H445.41M149.29 1322.28H445.41M149.29 1340.28H445.41" stroke="#EBEBEB" stroke-width="2.7" fill="none"/>
<rect x="162.75" y="1314.18" width="3.17" height="16.2" fill="#55752f"/>
<rect x="162.75" y="1332.18" width="6.33" height="16.2" fill="#55752f"/>
<rect x="162.75" y="1332.18" width="3.17" height="16.2" fill="#e37e00"/>
<rect x="149.89" y="1294.08" width="294.92" height="56.4" fill="none" stroke="#333333" stroke-width="2.3"/>
<rect x="462.44" y="1293.48" width="296.12" height="57.6" fill="#ffffff"/>
<path d="M509.55 1293.48V1351.08M576.85 1293.48V1351.08M644.15 1293.48V1351.08M711.45 1293.48V1351.08" stroke="#EBEBEB" stroke-width="1.8" fill="none"/>
<path d="M475.9 1293.48V1351.08M543.2 1293.48V1351.08M610.5 1293.48V1351.08M677.8 1293.48V1351.08M745.1 1293.48V1351.08M462.44 1304.28H758.56M462.44 1322.28H758.56M462.44 1340.28H758.56" stroke="#EBEBEB" stroke-width="2.7" fill="none"/>
<rect x="475.9" y="1332.18" width="89.73" height="16.2" fill="#e37e00"/>
<rect x="475.9" y="1332.18" width="59.82" height="16.2" fill="#c10534"/>
<rect x="475.9" y="1332.18" width="29.91" height="16.2" fill="#cac27e"/>
<rect x="463.04" y="1294.08" width="294.92" height="56.4" fill="none" stroke="#333333" stroke-width="2.3"/>
<rect x="775.59" y="1293.48" width="296.12" height="57.6" fill="#ffffff"/>
<path d="M822.7 1293.48V1351.08M890 1293.48V1351.08M957.3 1293.48V1351.08M1024.6 1293.48V1351.08" stroke="#EBEBEB" stroke-width="1.8" fill="none"/>
<path d="M789.05 1293.48V1351.08M856.35 1293.48V1351.08M923.65 1293.48V1351.08M990.95 1293.48V1351.08M1058.25 1293.48V1351.08M775.59 1304.28H1071.71M775.59 1322.28H1071.71M775.59 1340.28H1071.71" stroke="#EBEBEB" stroke-width="2.7" fill="none"/>
<rect x="776.19" y="1294.08" width="294.92" height="56.4" fill="none" stroke="#333333" stroke-width="2.3"/>
<rect x="1088.74" y="1293.48" width="296.12" height="57.6" fill="#ffffff"/>
<path d="M1135.85 1293.48V1351.08M1203.15 1293.48V1351.08M1270.45 1293.48V1351.08M1337.75 1293.48V1351.08" stroke="#EBEBEB" stroke-width="1.8" fill="none"/>
<path d="M1102.2 1293.48V1351.08M1169.5 1293.48V1351.08M1236.8 1293.48V1351.08M1304.1 1293.48V1351.08M1371.4 1293.48V1351.08M1088.74 1304.28H1384.86M1088.74 1322.28H1384.86M1088.74 1340.28H1384.86" stroke="#EBEBEB" stroke-width="2.7" fill="none"/>
<rect x="1102.2" y="1296.18" width="22.43" height="16.2" fill="#55752f"/>
<rect x="1102.2" y="1314.18" width="22.43" height="16.2" fill="#55752f"/>
<rect x="1102.2" y="1332.18" width="11.22" height="16.2" fill="#e37e00"/>
<rect x="1089.34" y="1294.08" width="294.92" height="56.4" fill="none" stroke="#333333" stroke-width="2.3"/>
<rect x="1384.86" y="1293.48" width="301.74" height="57.6" fill="#D9D9D9"/>
<rect x="1385.46" y="1294.08" width="300.54" height="56.4" fill="none" stroke="#333333" stroke-width="2.3"/>
<text x="1535.63" y="1331.23" class="st">JAK−STAT</text>
<path d="M140.69 1304.28H149.29M140.69 1322.28H149.29M140.69 1340.28H149.29" stroke="#333333" stroke-width="3.3" fill="none"/>
<text transform="translate(135.59 1313.16) scale(1 1.044)" class="yl">STAT5B</text>
<text transform="translate(135.59 1331.16) scale(1 1.044)" class="yl">STAT3</text>
<text transform="translate(135.59 1349.16) scale(1 1.044)" class="yl">SOCS1</text>
<rect x="149.29" y="1368.16" width="296.12" height="147.6" fill="#ffffff"/>
<path d="M196.4 1368.16V1515.76M263.7 1368.16V1515.76M331 1368.16V1515.76M398.3 1368.16V1515.76" stroke="#EBEBEB" stroke-width="1.8" fill="none"/>
<path d="M162.75 1368.16V1515.76M230.05 1368.16V1515.76M297.35 1368.16V1515.76M364.65 1368.16V1515.76M431.95 1368.16V1515.76M149.29 1378.96H445.41M149.29 1396.96H445.41M149.29 1414.96H445.41M149.29 1432.96H445.41M149.29 1450.96H445.41M149.29 1468.96H445.41M149.29 1486.96H445.41M149.29 1504.96H445.41" stroke="#EBEBEB" stroke-width="2.7" fill="none"/>
<rect x="162.75" y="1370.86" width="3.17" height="16.2" fill="#c10534"/>
<rect x="162.75" y="1388.86" width="3.17" height="16.2" fill="#55752f"/>
<rect x="162.75" y="1406.86" width="6.33" height="16.2" fill="#e37e00"/>
<rect x="162.75" y="1406.86" width="3.17" height="16.2" fill="#cac27e"/>
<rect x="162.75" y="1424.86" width="3.17" height="16.2" fill="#cac27e"/>
<rect x="162.75" y="1442.86" width="3.17" height="16.2" fill="#55752f"/>
<rect x="162.75" y="1460.86" width="3.17" height="16.2" fill="#c10534"/>
<rect x="162.75" y="1478.86" width="3.17" height="16.2" fill="#55752f"/>
<rect x="162.75" y="1496.86" width="6.33" height="16.2" fill="#55752f"/>
<rect x="149.89" y="1368.76" width="294.92" height="146.4" fill="none" stroke="#333333" stroke-width="2.3"/>
<rect x="462.44" y="1368.16" width="296.12" height="147.6" fill="#ffffff"/>
<path d="M509.55 1368.16V1515.76M576.85 1368.16V1515.76M644.15 1368.16V1515.76M711.45 1368.16V1515.76" stroke="#EBEBEB" stroke-width="1.8" fill="none"/>
<path d="M475.9 1368.16V1515.76M543.2 1368.16V1515.76M610.5 1368.16V1515.76M677.8 1368.16V1515.76M745.1 1368.16V1515.76M462.44 1378.96H758.56M462.44 1396.96H758.56M462.44 1414.96H758.56M462.44 1432.96H758.56M462.44 1450.96H758.56M462.44 1468.96H758.56M462.44 1486.96H758.56M462.44 1504.96H758.56" stroke="#EBEBEB" stroke-width="2.7" fill="none"/>
<rect x="475.9" y="1370.86" width="29.91" height="16.2" fill="#55752f"/>
<rect x="475.9" y="1496.86" width="29.91" height="16.2" fill="#a0522d"/>
<rect x="463.04" y="1368.76" width="294.92" height="146.4" fill="none" stroke="#333333" stroke-width="2.3"/>
<rect x="775.59" y="1368.16" width="296.12" height="147.6" fill="#ffffff"/>
<path d="M822.7 1368.16V1515.76M890 1368.16V1515.76M957.3 1368.16V1515.76M1024.6 1368.16V1515.76" stroke="#EBEBEB" stroke-width="1.8" fill="none"/>
<path d="M789.05 1368.16V1515.76M856.35 1368.16V1515.76M923.65 1368.16V1515.76M990.95 1368.16V1515.76M1058.25 1368.16V1515.76M775.59 1378.96H1071.71M775.59 1396.96H1071.71M775.59 1414.96H1071.71M775.59 1432.96H1071.71M775.59 1450.96H1071.71M775.59 1468.96H1071.71M775.59 1486.96H1071.71M775.59 1504.96H1071.71" stroke="#EBEBEB" stroke-width="2.7" fill="none"/>
<rect x="789.05" y="1406.86" width="24.47" height="16.2" fill="#55752f"/>
<rect x="789.05" y="1424.86" width="24.47" height="16.2" fill="#55752f"/>
<rect x="789.05" y="1460.86" width="24.47" height="16.2" fill="#55752f"/>
<rect x="776.19" y="1368.76" width="294.92" height="146.4" fill="none" stroke="#333333" stroke-width="2.3"/>
<rect x="1088.74" y="1368.16" width="296.12" height="147.6" fill="#ffffff"/>
<path d="M1135.85 1368.16V1515.76M1203.15 1368.16V1515.76M1270.45 1368.16V1515.76M1337.75 1368.16V1515.76" stroke="#EBEBEB" stroke-width="1.8" fill="none"/>
<path d="M1102.2 1368.16V1515.76M1169.5 1368.16V1515.76M1236.8 1368.16V1515.76M1304.1 1368.16V1515.76M1371.4 1368.16V1515.76M1088.74 1378.96H1384.86M1088.74 1396.96H1384.86M1088.74 1414.96H1384.86M1088.74 1432.96H1384.86M1088.74 1450.96H1384.86M1088.74 1468.96H1384.86M1088.74 1486.96H1384.86M1088.74 1504.96H1384.86" stroke="#EBEBEB" stroke-width="2.7" fill="none"/>
<rect x="1102.2" y="1370.86" width="11.22" height="16.2" fill="#e37e00"/>
<rect x="1102.2" y="1388.86" width="22.43" height="16.2" fill="#55752f"/>
<rect x="1102.2" y="1388.86" width="11.22" height="16.2" fill="#e37e00"/>
<rect x="1102.2" y="1424.86" width="11.22" height="16.2" fill="#e37e00"/>
<rect x="1102.2" y="1442.86" width="11.22" height="16.2" fill="#55752f"/>
<rect x="1102.2" y="1478.86" width="11.22" height="16.2" fill="#55752f"/>
<rect x="1089.34" y="1368.76" width="294.92" height="146.4" fill="none" stroke="#333333" stroke-width="2.3"/>
<rect x="1384.86" y="1368.16" width="301.74" height="147.6" fill="#D9D9D9"/>
<rect x="1385.46" y="1368.76" width="300.54" height="146.4" fill="none" stroke="#333333" stroke-width="2.3"/>
<text x="1535.63" y="1450.91" class="st">Transcriptional regulation</text>
<path d="M140.69 1378.96H149.29M140.69 1396.96H149.29M140.69 1414.96H149.29M140.69 1432.96H149.29M140.69 1450.96H149.29M140.69 1468.96H149.29M140.69 1486.96H149.29M140.69 1504.96H149.29" stroke="#333333" stroke-width="3.3" fill="none"/>
<text transform="translate(135.59 1387.84) scale(1 1.044)" class="yl">YTHDF2</text>
<text transform="translate(135.59 1405.84) scale(1 1.044)" class="yl">PRDM1</text>
<text transform="translate(135.59 1423.84) scale(1 1.044)" class="yl">JUNB</text>
<text transform="translate(135.59 1441.84) scale(1 1.044)" class="yl">IRF2BP2</text>
<text transform="translate(135.59 1459.84) scale(1 1.044)" class="yl">GTF2I</text>
<text transform="translate(135.59 1477.84) scale(1 1.044)" class="yl">ETV6</text>
<text transform="translate(135.59 1495.84) scale(1 1.044)" class="yl">DDX3X</text>
<text transform="translate(135.59 1513.84) scale(1 1.044)" class="yl">BCL11B</text>
<rect x="149.29" y="1532.84" width="296.12" height="111.6" fill="#ffffff"/>
<path d="M196.4 1532.84V1644.44M263.7 1532.84V1644.44M331 1532.84V1644.44M398.3 1532.84V1644.44" stroke="#EBEBEB" stroke-width="1.8" fill="none"/>
<path d="M162.75 1532.84V1644.44M230.05 1532.84V1644.44M297.35 1532.84V1644.44M364.65 1532.84V1644.44M431.95 1532.84V1644.44M149.29 1543.64H445.41M149.29 1561.64H445.41M149.29 1579.64H445.41M149.29 1597.64H445.41M149.29 1615.64H445.41M149.29 1633.64H445.41" stroke="#EBEBEB" stroke-width="2.7" fill="none"/>
<rect x="162.75" y="1535.54" width="6.33" height="16.2" fill="#c10534"/>
<rect x="162.75" y="1535.54" width="3.17" height="16.2" fill="#a0522d"/>
<rect x="162.75" y="1553.54" width="6.33" height="16.2" fill="#55752f"/>
<rect x="162.75" y="1571.54" width="3.17" height="16.2" fill="#55752f"/>
<rect x="162.75" y="1589.54" width="3.17" height="16.2" fill="#55752f"/>
<rect x="162.75" y="1607.54" width="6.33" height="16.2" fill="#55752f"/>
<rect x="162.75" y="1625.54" width="6.33" height="16.2" fill="#55752f"/>
<rect x="162.75" y="1625.54" width="3.17" height="16.2" fill="#c10534"/>
<rect x="149.89" y="1533.44" width="294.92" height="110.4" fill="none" stroke="#333333" stroke-width="2.3"/>
<rect x="462.44" y="1532.84" width="296.12" height="111.6" fill="#ffffff"/>
<path d="M509.55 1532.84V1644.44M576.85 1532.84V1644.44M644.15 1532.84V1644.44M711.45 1532.84V1644.44" stroke="#EBEBEB" stroke-width="1.8" fill="none"/>
<path d="M475.9 1532.84V1644.44M543.2 1532.84V1644.44M610.5 1532.84V1644.44M677.8 1532.84V1644.44M745.1 1532.84V1644.44M462.44 1543.64H758.56M462.44 1561.64H758.56M462.44 1579.64H758.56M462.44 1597.64H758.56M462.44 1615.64H758.56M462.44 1633.64H758.56" stroke="#EBEBEB" stroke-width="2.7" fill="none"/>
<rect x="475.9" y="1625.54" width="29.91" height="16.2" fill="#55752f"/>
<rect x="463.04" y="1533.44" width="294.92" height="110.4" fill="none" stroke="#333333" stroke-width="2.3"/>
<rect x="775.59" y="1532.84" width="296.12" height="111.6" fill="#ffffff"/>
<path d="M822.7 1532.84V1644.44M890 1532.84V1644.44M957.3 1532.84V1644.44M1024.6 1532.84V1644.44" stroke="#EBEBEB" stroke-width="1.8" fill="none"/>
<path d="M789.05 1532.84V1644.44M856.35 1532.84V1644.44M923.65 1532.84V1644.44M990.95 1532.84V1644.44M1058.25 1532.84V1644.44M775.59 1543.64H1071.71M775.59 1561.64H1071.71M775.59 1579.64H1071.71M775.59 1597.64H1071.71M775.59 1615.64H1071.71M775.59 1633.64H1071.71" stroke="#EBEBEB" stroke-width="2.7" fill="none"/>
<rect x="789.05" y="1607.54" width="24.47" height="16.2" fill="#55752f"/>
<rect x="789.05" y="1625.54" width="24.47" height="16.2" fill="#55752f"/>
<rect x="776.19" y="1533.44" width="294.92" height="110.4" fill="none" stroke="#333333" stroke-width="2.3"/>
<rect x="1088.74" y="1532.84" width="296.12" height="111.6" fill="#ffffff"/>
<path d="M1135.85 1532.84V1644.44M1203.15 1532.84V1644.44M1270.45 1532.84V1644.44M1337.75 1532.84V1644.44" stroke="#EBEBEB" stroke-width="1.8" fill="none"/>
<path d="M1102.2 1532.84V1644.44M1169.5 1532.84V1644.44M1236.8 1532.84V1644.44M1304.1 1532.84V1644.44M1371.4 1532.84V1644.44M1088.74 1543.64H1384.86M1088.74 1561.64H1384.86M1088.74 1579.64H1384.86M1088.74 1597.64H1384.86M1088.74 1615.64H1384.86M1088.74 1633.64H1384.86" stroke="#EBEBEB" stroke-width="2.7" fill="none"/>
<rect x="1102.2" y="1535.54" width="11.22" height="16.2" fill="#55752f"/>
<rect x="1102.2" y="1571.54" width="11.22" height="16.2" fill="#55752f"/>
<rect x="1102.2" y="1589.54" width="22.43" height="16.2" fill="#55752f"/>
<rect x="1089.34" y="1533.44" width="294.92" height="110.4" fill="none" stroke="#333333" stroke-width="2.3"/>
<rect x="1384.86" y="1532.84" width="301.74" height="111.6" fill="#D9D9D9"/>
<rect x="1385.46" y="1533.44" width="300.54" height="110.4" fill="none" stroke="#333333" stroke-width="2.3"/>
<text x="1535.63" y="1597.59" class="st">Others</text>
<path d="M140.69 1543.64H149.29M140.69 1561.64H149.29M140.69 1579.64H149.29M140.69 1597.64H149.29M140.69 1615.64H149.29M140.69 1633.64H149.29" stroke="#333333" stroke-width="3.3" fill="none"/>
<text transform="translate(135.59 1552.52) scale(1 1.044)" class="yl">NOTCH1</text>
<text transform="translate(135.59 1570.52) scale(1 1.044)" class="yl">MGAM</text>
<text transform="translate(135.59 1588.52) scale(1 1.044)" class="yl">MDN1</text>
<text transform="translate(135.59 1606.52) scale(1 1.044)" class="yl">KIT</text>
<text transform="translate(135.59 1624.52) scale(1 1.044)" class="yl">IGLL5</text>
<text transform="translate(135.59 1642.52) scale(1 1.044)" class="yl">CSMD3</text>
<rect x="149.29" y="1661.52" width="296.12" height="723.6" fill="#ffffff"/>
<path d="M196.4 1661.52V2385.12M263.7 1661.52V2385.12M331 1661.52V2385.12M398.3 1661.52V2385.12" stroke="#EBEBEB" stroke-width="1.8" fill="none"/>
<path d="M162.75 1661.52V2385.12M230.05 1661.52V2385.12M297.35 1661.52V2385.12M364.65 1661.52V2385.12M431.95 1661.52V2385.12M149.29 1672.32H445.41M149.29 1690.32H445.41M149.29 1708.32H445.41M149.29 1726.32H445.41M149.29 1744.32H445.41M149.29 1762.32H445.41M149.29 1780.32H445.41M149.29 1798.32H445.41M149.29 1816.32H445.41M149.29 1834.32H445.41M149.29 1852.32H445.41M149.29 1870.32H445.41M149.29 1888.32H445.41M149.29 1906.32H445.41M149.29 1924.32H445.41M149.29 1942.32H445.41M149.29 1960.32H445.41M149.29 1978.32H445.41M149.29 1996.32H445.41M149.29 2014.32H445.41M149.29 2032.32H445.41M149.29 2050.32H445.41M149.29 2068.32H445.41M149.29 2086.32H445.41M149.29 2104.32H445.41M149.29 2122.32H445.41M149.29 2140.32H445.41M149.29 2158.32H445.41M149.29 2176.32H445.41M149.29 2194.32H445.41M149.29 2212.32H445.41M149.29 2230.32H445.41M149.29 2248.32H445.41M149.29 2266.32H445.41M149.29 2284.32H445.41M149.29 2302.32H445.41M149.29 2320.32H445.41M149.29 2338.32H445.41M149.29 2356.32H445.41M149.29 2374.32H445.41" stroke="#EBEBEB" stroke-width="2.7" fill="none"/>
<rect x="162.75" y="1682.22" width="3.17" height="16.2" fill="#1a476f"/>
<rect x="162.75" y="1736.22" width="9.5" height="16.2" fill="#1a476f"/>
<rect x="162.75" y="1754.22" width="12.67" height="16.2" fill="#1a476f"/>
<rect x="162.75" y="1772.22" width="9.5" height="16.2" fill="#1a476f"/>
<rect x="162.75" y="1790.22" width="15.84" height="16.2" fill="#1a476f"/>
<rect x="162.75" y="1808.22" width="63.34" height="16.2" fill="#1a476f"/>
<rect x="162.75" y="1826.22" width="66.51" height="16.2" fill="#1a476f"/>
<rect x="162.75" y="1844.22" width="3.17" height="16.2" fill="#1a476f"/>
<rect x="162.75" y="1862.22" width="12.67" height="16.2" fill="#1a476f"/>
<rect x="162.75" y="1880.22" width="9.5" height="16.2" fill="#1a476f"/>
<rect x="162.75" y="1898.22" width="9.5" height="16.2" fill="#1a476f"/>
<rect x="162.75" y="2096.22" width="3.17" height="16.2" fill="#1a476f"/>
<rect x="162.75" y="2150.22" width="3.17" height="16.2" fill="#90353b"/>
<rect x="162.75" y="2222.22" width="9.5" height="16.2" fill="#1a476f"/>
<rect x="162.75" y="2240.22" width="9.5" height="16.2" fill="#1a476f"/>
<rect x="162.75" y="2258.22" width="69.68" height="16.2" fill="#1a476f"/>
<rect x="162.75" y="2258.22" width="66.51" height="16.2" fill="#90353b"/>
<rect x="162.75" y="2276.22" width="69.68" height="16.2" fill="#1a476f"/>
<rect x="162.75" y="2276.22" width="66.51" height="16.2" fill="#90353b"/>
<rect x="162.75" y="2294.22" width="3.17" height="16.2" fill="#1a476f"/>
<rect x="162.75" y="2312.22" width="3.17" height="16.2" fill="#1a476f"/>
<rect x="162.75" y="2330.22" width="72.84" height="16.2" fill="#1a476f"/>
<rect x="162.75" y="2330.22" width="22.17" height="16.2" fill="#90353b"/>
<rect x="162.75" y="2348.22" width="25.34" height="16.2" fill="#1a476f"/>
<rect x="162.75" y="2366.22" width="9.5" height="16.2" fill="#1a476f"/>
<rect x="162.75" y="2366.22" width="3.17" height="16.2" fill="#90353b"/>
<rect x="149.89" y="1662.12" width="294.92" height="722.4" fill="none" stroke="#333333" stroke-width="2.3"/>
<rect x="462.44" y="1661.52" width="296.12" height="723.6" fill="#ffffff"/>
<path d="M509.55 1661.52V2385.12M576.85 1661.52V2385.12M644.15 1661.52V2385.12M711.45 1661.52V2385.12" stroke="#EBEBEB" stroke-width="1.8" fill="none"/>
<path d="M475.9 1661.52V2385.12M543.2 1661.52V2385.12M610.5 1661.52V2385.12M677.8 1661.52V2385.12M745.1 1661.52V2385.12M462.44 1672.32H758.56M462.44 1690.32H758.56M462.44 1708.32H758.56M462.44 1726.32H758.56M462.44 1744.32H758.56M462.44 1762.32H758.56M462.44 1780.32H758.56M462.44 1798.32H758.56M462.44 1816.32H758.56M462.44 1834.32H758.56M462.44 1852.32H758.56M462.44 1870.32H758.56M462.44 1888.32H758.56M462.44 1906.32H758.56M462.44 1924.32H758.56M462.44 1942.32H758.56M462.44 1960.32H758.56M462.44 1978.32H758.56M462.44 1996.32H758.56M462.44 2014.32H758.56M462.44 2032.32H758.56M462.44 2050.32H758.56M462.44 2068.32H758.56M462.44 2086.32H758.56M462.44 2104.32H758.56M462.44 2122.32H758.56M462.44 2140.32H758.56M462.44 2158.32H758.56M462.44 2176.32H758.56M462.44 2194.32H758.56M462.44 2212.32H758.56M462.44 2230.32H758.56M462.44 2248.32H758.56M462.44 2266.32H758.56M462.44 2284.32H758.56M462.44 2302.32H758.56M462.44 2320.32H758.56M462.44 2338.32H758.56M462.44 2356.32H758.56M462.44 2374.32H758.56" stroke="#EBEBEB" stroke-width="2.7" fill="none"/>
<rect x="475.9" y="1664.22" width="29.91" height="16.2" fill="#1a476f"/>
<rect x="475.9" y="1682.22" width="29.91" height="16.2" fill="#1a476f"/>
<rect x="475.9" y="1736.22" width="29.91" height="16.2" fill="#1a476f"/>
<rect x="475.9" y="1754.22" width="29.91" height="16.2" fill="#1a476f"/>
<rect x="475.9" y="1808.22" width="59.82" height="16.2" fill="#1a476f"/>
<rect x="475.9" y="1826.22" width="59.82" height="16.2" fill="#1a476f"/>
<rect x="475.9" y="1862.22" width="29.91" height="16.2" fill="#90353b"/>
<rect x="475.9" y="1880.22" width="29.91" height="16.2" fill="#1a476f"/>
<rect x="475.9" y="1898.22" width="29.91" height="16.2" fill="#1a476f"/>
<rect x="475.9" y="1952.22" width="29.91" height="16.2" fill="#90353b"/>
<rect x="475.9" y="1988.22" width="29.91" height="16.2" fill="#90353b"/>
<rect x="475.9" y="2006.22" width="29.91" height="16.2" fill="#90353b"/>
<rect x="475.9" y="2024.22" width="59.82" height="16.2" fill="#1a476f"/>
<rect x="475.9" y="2024.22" width="29.91" height="16.2" fill="#90353b"/>
<rect x="475.9" y="2042.22" width="59.82" height="16.2" fill="#1a476f"/>
<rect x="475.9" y="2042.22" width="29.91" height="16.2" fill="#90353b"/>
<rect x="475.9" y="2060.22" width="29.91" height="16.2" fill="#1a476f"/>
<rect x="475.9" y="2078.22" width="29.91" height="16.2" fill="#1a476f"/>
<rect x="475.9" y="2096.22" width="29.91" height="16.2" fill="#90353b"/>
<rect x="475.9" y="2114.22" width="29.91" height="16.2" fill="#1a476f"/>
<rect x="475.9" y="2132.22" width="29.91" height="16.2" fill="#90353b"/>
<rect x="475.9" y="2150.22" width="29.91" height="16.2" fill="#90353b"/>
<rect x="475.9" y="2168.22" width="29.91" height="16.2" fill="#90353b"/>
<rect x="475.9" y="2222.22" width="29.91" height="16.2" fill="#90353b"/>
<rect x="475.9" y="2258.22" width="29.91" height="16.2" fill="#90353b"/>
<rect x="475.9" y="2276.22" width="59.82" height="16.2" fill="#1a476f"/>
<rect x="475.9" y="2276.22" width="29.91" height="16.2" fill="#90353b"/>
<rect x="475.9" y="2330.22" width="59.82" height="16.2" fill="#1a476f"/>
<rect x="475.9" y="2330.22" width="29.91" height="16.2" fill="#90353b"/>
<rect x="463.04" y="1662.12" width="294.92" height="722.4" fill="none" stroke="#333333" stroke-width="2.3"/>
<rect x="775.59" y="1661.52" width="296.12" height="723.6" fill="#ffffff"/>
<path d="M822.7 1661.52V2385.12M890 1661.52V2385.12M957.3 1661.52V2385.12M1024.6 1661.52V2385.12" stroke="#EBEBEB" stroke-width="1.8" fill="none"/>
<path d="M789.05 1661.52V2385.12M856.35 1661.52V2385.12M923.65 1661.52V2385.12M990.95 1661.52V2385.12M1058.25 1661.52V2385.12M775.59 1672.32H1071.71M775.59 1690.32H1071.71M775.59 1708.32H1071.71M775.59 1726.32H1071.71M775.59 1744.32H1071.71M775.59 1762.32H1071.71M775.59 1780.32H1071.71M775.59 1798.32H1071.71M775.59 1816.32H1071.71M775.59 1834.32H1071.71M775.59 1852.32H1071.71M775.59 1870.32H1071.71M775.59 1888.32H1071.71M775.59 1906.32H1071.71M775.59 1924.32H1071.71M775.59 1942.32H1071.71M775.59 1960.32H1071.71M775.59 1978.32H1071.71M775.59 1996.32H1071.71M775.59 2014.32H1071.71M775.59 2032.32H1071.71M775.59 2050.32H1071.71M775.59 2068.32H1071.71M775.59 2086.32H1071.71M775.59 2104.32H1071.71M775.59 2122.32H1071.71M775.59 2140.32H1071.71M775.59 2158.32H1071.71M775.59 2176.32H1071.71M775.59 2194.32H1071.71M775.59 2212.32H1071.71M775.59 2230.32H1071.71M775.59 2248.32H1071.71M775.59 2266.32H1071.71M775.59 2284.32H1071.71M775.59 2302.32H1071.71M775.59 2320.32H1071.71M775.59 2338.32H1071.71M775.59 2356.32H1071.71M775.59 2374.32H1071.71" stroke="#EBEBEB" stroke-width="2.7" fill="none"/>
<rect x="789.05" y="1700.22" width="24.47" height="16.2" fill="#90353b"/>
<rect x="789.05" y="1718.22" width="24.47" height="16.2" fill="#90353b"/>
<rect x="789.05" y="1736.22" width="24.47" height="16.2" fill="#1a476f"/>
<rect x="789.05" y="1754.22" width="24.47" height="16.2" fill="#1a476f"/>
<rect x="789.05" y="1772.22" width="48.95" height="16.2" fill="#1a476f"/>
<rect x="789.05" y="1790.22" width="48.95" height="16.2" fill="#1a476f"/>
<rect x="789.05" y="1808.22" width="73.42" height="16.2" fill="#1a476f"/>
<rect x="789.05" y="1826.22" width="73.42" height="16.2" fill="#1a476f"/>
<rect x="789.05" y="1844.22" width="48.95" height="16.2" fill="#1a476f"/>
<rect x="789.05" y="1862.22" width="24.47" height="16.2" fill="#1a476f"/>
<rect x="789.05" y="1880.22" width="97.89" height="16.2" fill="#1a476f"/>
<rect x="789.05" y="1898.22" width="97.89" height="16.2" fill="#1a476f"/>
<rect x="789.05" y="1916.22" width="24.47" height="16.2" fill="#1a476f"/>
<rect x="789.05" y="1934.22" width="24.47" height="16.2" fill="#1a476f"/>
<rect x="789.05" y="2024.22" width="24.47" height="16.2" fill="#90353b"/>
<rect x="789.05" y="2042.22" width="24.47" height="16.2" fill="#90353b"/>
<rect x="789.05" y="2060.22" width="48.95" height="16.2" fill="#1a476f"/>
<rect x="789.05" y="2060.22" width="24.47" height="16.2" fill="#90353b"/>
<rect x="789.05" y="2078.22" width="48.95" height="16.2" fill="#1a476f"/>
<rect x="789.05" y="2078.22" width="24.47" height="16.2" fill="#90353b"/>
<rect x="789.05" y="2096.22" width="48.95" height="16.2" fill="#90353b"/>
<rect x="789.05" y="2132.22" width="73.42" height="16.2" fill="#1a476f"/>
<rect x="789.05" y="2132.22" width="48.95" height="16.2" fill="#90353b"/>
<rect x="789.05" y="2186.22" width="24.47" height="16.2" fill="#90353b"/>
<rect x="789.05" y="2204.22" width="24.47" height="16.2" fill="#90353b"/>
<rect x="789.05" y="2258.22" width="48.95" height="16.2" fill="#90353b"/>
<rect x="789.05" y="2276.22" width="48.95" height="16.2" fill="#90353b"/>
<rect x="789.05" y="2294.22" width="24.47" height="16.2" fill="#1a476f"/>
<rect x="789.05" y="2312.22" width="24.47" height="16.2" fill="#1a476f"/>
<rect x="789.05" y="2330.22" width="73.42" height="16.2" fill="#1a476f"/>
<rect x="789.05" y="2330.22" width="48.95" height="16.2" fill="#90353b"/>
<rect x="789.05" y="2348.22" width="24.47" height="16.2" fill="#1a476f"/>
<rect x="789.05" y="2366.22" width="48.95" height="16.2" fill="#1a476f"/>
<rect x="776.19" y="1662.12" width="294.92" height="722.4" fill="none" stroke="#333333" stroke-width="2.3"/>
<rect x="1088.74" y="1661.52" width="296.12" height="723.6" fill="#ffffff"/>
<path d="M1135.85 1661.52V2385.12M1203.15 1661.52V2385.12M1270.45 1661.52V2385.12M1337.75 1661.52V2385.12" stroke="#EBEBEB" stroke-width="1.8" fill="none"/>
<path d="M1102.2 1661.52V2385.12M1169.5 1661.52V2385.12M1236.8 1661.52V2385.12M1304.1 1661.52V2385.12M1371.4 1661.52V2385.12M1088.74 1672.32H1384.86M1088.74 1690.32H1384.86M1088.74 1708.32H1384.86M1088.74 1726.32H1384.86M1088.74 1744.32H1384.86M1088.74 1762.32H1384.86M1088.74 1780.32H1384.86M1088.74 1798.32H1384.86M1088.74 1816.32H1384.86M1088.74 1834.32H1384.86M1088.74 1852.32H1384.86M1088.74 1870.32H1384.86M1088.74 1888.32H1384.86M1088.74 1906.32H1384.86M1088.74 1924.32H1384.86M1088.74 1942.32H1384.86M1088.74 1960.32H1384.86M1088.74 1978.32H1384.86M1088.74 1996.32H1384.86M1088.74 2014.32H1384.86M1088.74 2032.32H1384.86M1088.74 2050.32H1384.86M1088.74 2068.32H1384.86M1088.74 2086.32H1384.86M1088.74 2104.32H1384.86M1088.74 2122.32H1384.86M1088.74 2140.32H1384.86M1088.74 2158.32H1384.86M1088.74 2176.32H1384.86M1088.74 2194.32H1384.86M1088.74 2212.32H1384.86M1088.74 2230.32H1384.86M1088.74 2248.32H1384.86M1088.74 2266.32H1384.86M1088.74 2284.32H1384.86M1088.74 2302.32H1384.86M1088.74 2320.32H1384.86M1088.74 2338.32H1384.86M1088.74 2356.32H1384.86M1088.74 2374.32H1384.86" stroke="#EBEBEB" stroke-width="2.7" fill="none"/>
<rect x="1102.2" y="1664.22" width="33.65" height="16.2" fill="#1a476f"/>
<rect x="1102.2" y="1664.22" width="11.22" height="16.2" fill="#90353b"/>
<rect x="1102.2" y="1682.22" width="44.87" height="16.2" fill="#1a476f"/>
<rect x="1102.2" y="1700.22" width="67.3" height="16.2" fill="#1a476f"/>
<rect x="1102.2" y="1700.22" width="11.22" height="16.2" fill="#90353b"/>
<rect x="1102.2" y="1718.22" width="67.3" height="16.2" fill="#1a476f"/>
<rect x="1102.2" y="1718.22" width="11.22" height="16.2" fill="#90353b"/>
<rect x="1102.2" y="1736.22" width="22.43" height="16.2" fill="#90353b"/>
<rect x="1102.2" y="1754.22" width="11.22" height="16.2" fill="#90353b"/>
<rect x="1102.2" y="1772.22" width="56.08" height="16.2" fill="#1a476f"/>
<rect x="1102.2" y="1772.22" width="11.22" height="16.2" fill="#90353b"/>
<rect x="1102.2" y="1790.22" width="44.87" height="16.2" fill="#1a476f"/>
<rect x="1102.2" y="1790.22" width="11.22" height="16.2" fill="#90353b"/>
<rect x="1102.2" y="1808.22" width="78.52" height="16.2" fill="#1a476f"/>
<rect x="1102.2" y="1826.22" width="67.3" height="16.2" fill="#1a476f"/>
<rect x="1102.2" y="1826.22" width="11.22" height="16.2" fill="#90353b"/>
<rect x="1102.2" y="1844.22" width="33.65" height="16.2" fill="#1a476f"/>
<rect x="1102.2" y="1844.22" width="11.22" height="16.2" fill="#90353b"/>
<rect x="1102.2" y="1862.22" width="44.87" height="16.2" fill="#1a476f"/>
<rect x="1102.2" y="1862.22" width="22.43" height="16.2" fill="#90353b"/>
<rect x="1102.2" y="1880.22" width="78.52" height="16.2" fill="#1a476f"/>
<rect x="1102.2" y="1898.22" width="78.52" height="16.2" fill="#1a476f"/>
<rect x="1102.2" y="1916.22" width="56.08" height="16.2" fill="#1a476f"/>
<rect x="1102.2" y="1916.22" width="33.65" height="16.2" fill="#90353b"/>
<rect x="1102.2" y="1934.22" width="56.08" height="16.2" fill="#1a476f"/>
<rect x="1102.2" y="1934.22" width="33.65" height="16.2" fill="#90353b"/>
<rect x="1102.2" y="1952.22" width="89.73" height="16.2" fill="#1a476f"/>
<rect x="1102.2" y="1952.22" width="22.43" height="16.2" fill="#90353b"/>
<rect x="1102.2" y="1970.22" width="78.52" height="16.2" fill="#1a476f"/>
<rect x="1102.2" y="1970.22" width="33.65" height="16.2" fill="#90353b"/>
<rect x="1102.2" y="1988.22" width="78.52" height="16.2" fill="#90353b"/>
<rect x="1102.2" y="2006.22" width="89.73" height="16.2" fill="#90353b"/>
<rect x="1102.2" y="2024.22" width="11.22" height="16.2" fill="#90353b"/>
<rect x="1102.2" y="2042.22" width="11.22" height="16.2" fill="#90353b"/>
<rect x="1102.2" y="2060.22" width="22.43" height="16.2" fill="#1a476f"/>
<rect x="1102.2" y="2078.22" width="11.22" height="16.2" fill="#1a476f"/>
<rect x="1102.2" y="2096.22" width="33.65" height="16.2" fill="#90353b"/>
<rect x="1102.2" y="2114.22" width="67.3" height="16.2" fill="#1a476f"/>
<rect x="1102.2" y="2114.22" width="11.22" height="16.2" fill="#90353b"/>
<rect x="1102.2" y="2132.22" width="56.08" height="16.2" fill="#1a476f"/>
<rect x="1102.2" y="2132.22" width="44.87" height="16.2" fill="#90353b"/>
<rect x="1102.2" y="2150.22" width="56.08" height="16.2" fill="#1a476f"/>
<rect x="1102.2" y="2150.22" width="22.43" height="16.2" fill="#90353b"/>
<rect x="1102.2" y="2168.22" width="67.3" height="16.2" fill="#1a476f"/>
<rect x="1102.2" y="2168.22" width="33.65" height="16.2" fill="#90353b"/>
<rect x="1102.2" y="2186.22" width="78.52" height="16.2" fill="#1a476f"/>
<rect x="1102.2" y="2186.22" width="67.3" height="16.2" fill="#90353b"/>
<rect x="1102.2" y="2204.22" width="56.08" height="16.2" fill="#1a476f"/>
<rect x="1102.2" y="2204.22" width="22.43" height="16.2" fill="#90353b"/>
<rect x="1102.2" y="2222.22" width="78.52" height="16.2" fill="#1a476f"/>
<rect x="1102.2" y="2222.22" width="44.87" height="16.2" fill="#90353b"/>
<rect x="1102.2" y="2240.22" width="67.3" height="16.2" fill="#1a476f"/>
<rect x="1102.2" y="2240.22" width="22.43" height="16.2" fill="#90353b"/>
<rect x="1102.2" y="2258.22" width="44.87" height="16.2" fill="#1a476f"/>
<rect x="1102.2" y="2258.22" width="22.43" height="16.2" fill="#90353b"/>
<rect x="1102.2" y="2276.22" width="44.87" height="16.2" fill="#1a476f"/>
<rect x="1102.2" y="2276.22" width="22.43" height="16.2" fill="#90353b"/>
<rect x="1102.2" y="2294.22" width="89.73" height="16.2" fill="#1a476f"/>
<rect x="1102.2" y="2294.22" width="33.65" height="16.2" fill="#90353b"/>
<rect x="1102.2" y="2312.22" width="78.52" height="16.2" fill="#1a476f"/>
<rect x="1102.2" y="2312.22" width="22.43" height="16.2" fill="#90353b"/>
<rect x="1102.2" y="2330.22" width="89.73" height="16.2" fill="#1a476f"/>
<rect x="1102.2" y="2330.22" width="33.65" height="16.2" fill="#90353b"/>
<rect x="1102.2" y="2348.22" width="56.08" height="16.2" fill="#1a476f"/>
<rect x="1102.2" y="2366.22" width="56.08" height="16.2" fill="#1a476f"/>
<rect x="1102.2" y="2366.22" width="33.65" height="16.2" fill="#90353b"/>
<rect x="1089.34" y="1662.12" width="294.92" height="722.4" fill="none" stroke="#333333" stroke-width="2.3"/>
<rect x="1384.86" y="1661.52" width="301.74" height="723.6" fill="#D9D9D9"/>
<rect x="1385.46" y="1662.12" width="300.54" height="722.4" fill="none" stroke="#333333" stroke-width="2.3"/>
<text x="1535.63" y="2032.27" class="st">arm level CNA</text>
<path d="M140.69 1672.32H149.29M140.69 1690.32H149.29M140.69 1708.32H149.29M140.69 1726.32H149.29M140.69 1744.32H149.29M140.69 1762.32H149.29M140.69 1780.32H149.29M140.69 1798.32H149.29M140.69 1816.32H149.29M140.69 1834.32H149.29M140.69 1852.32H149.29M140.69 1870.32H149.29M140.69 1888.32H149.29M140.69 1906.32H149.29M140.69 1924.32H149.29M140.69 1942.32H149.29M140.69 1960.32H149.29M140.69 1978.32H149.29M140.69 1996.32H149.29M140.69 2014.32H149.29M140.69 2032.32H149.29M140.69 2050.32H149.29M140.69 2068.32H149.29M140.69 2086.32H149.29M140.69 2104.32H149.29M140.69 2122.32H149.29M140.69 2140.32H149.29M140.69 2158.32H149.29M140.69 2176.32H149.29M140.69 2194.32H149.29M140.69 2212.32H149.29M140.69 2230.32H149.29M140.69 2248.32H149.29M140.69 2266.32H149.29M140.69 2284.32H149.29M140.69 2302.32H149.29M140.69 2320.32H149.29M140.69 2338.32H149.29M140.69 2356.32H149.29M140.69 2374.32H149.29" stroke="#333333" stroke-width="3.3" fill="none"/>
<text transform="translate(135.59 1681.2) scale(1 1.044)" class="yl">1p</text>
<text transform="translate(135.59 1699.2) scale(1 1.044)" class="yl">1q</text>
<text transform="translate(135.59 1717.2) scale(1 1.044)" class="yl">2p</text>
<text transform="translate(135.59 1735.2) scale(1 1.044)" class="yl">2q</text>
<text transform="translate(135.59 1753.2) scale(1 1.044)" class="yl">3p</text>
<text transform="translate(135.59 1771.2) scale(1 1.044)" class="yl">3q</text>
<text transform="translate(135.59 1789.2) scale(1 1.044)" class="yl">4p</text>
<text transform="translate(135.59 1807.2) scale(1 1.044)" class="yl">4q</text>
<text transform="translate(135.59 1825.2) scale(1 1.044)" class="yl">5p</text>
<text transform="translate(135.59 1843.2) scale(1 1.044)" class="yl">5q</text>
<text transform="translate(135.59 1861.2) scale(1 1.044)" class="yl">6p</text>
<text transform="translate(135.59 1879.2) scale(1 1.044)" class="yl">6q</text>
<text transform="translate(135.59 1897.2) scale(1 1.044)" class="yl">7p</text>
<text transform="translate(135.59 1915.2) scale(1 1.044)" class="yl">7q</text>
<text transform="translate(135.59 1933.2) scale(1 1.044)" class="yl">8p</text>
<text transform="translate(135.59 1951.2) scale(1 1.044)" class="yl">8q</text>
<text transform="translate(135.59 1969.2) scale(1 1.044)" class="yl">9p</text>
<text transform="translate(135.59 1987.2) scale(1 1.044)" class="yl">9q</text>
<text transform="translate(135.59 2005.2) scale(1 1.044)" class="yl">10p</text>
<text transform="translate(135.59 2023.2) scale(1 1.044)" class="yl">10q</text>
<text transform="translate(135.59 2041.2) scale(1 1.044)" class="yl">11p</text>
<text transform="translate(135.59 2059.2) scale(1 1.044)" class="yl">11q</text>
<text transform="translate(135.59 2077.2) scale(1 1.044)" class="yl">12p</text>
<text transform="translate(135.59 2095.2) scale(1 1.044)" class="yl">12q</text>
<text transform="translate(135.59 2113.2) scale(1 1.044)" class="yl">13q</text>
<text transform="translate(135.59 2131.2) scale(1 1.044)" class="yl">14q</text>
<text transform="translate(135.59 2149.2) scale(1 1.044)" class="yl">15q</text>
<text transform="translate(135.59 2167.2) scale(1 1.044)" class="yl">16p</text>
<text transform="translate(135.59 2185.2) scale(1 1.044)" class="yl">16q</text>
<text transform="translate(135.59 2203.2) scale(1 1.044)" class="yl">17p</text>
<text transform="translate(135.59 2221.2) scale(1 1.044)" class="yl">17q</text>
<text transform="translate(135.59 2239.2) scale(1 1.044)" class="yl">18p</text>
<text transform="translate(135.59 2257.2) scale(1 1.044)" class="yl">18q</text>
<text transform="translate(135.59 2275.2) scale(1 1.044)" class="yl">19p</text>
<text transform="translate(135.59 2293.2) scale(1 1.044)" class="yl">19q</text>
<text transform="translate(135.59 2311.2) scale(1 1.044)" class="yl">20p</text>
<text transform="translate(135.59 2329.2) scale(1 1.044)" class="yl">20q</text>
<text transform="translate(135.59 2347.2) scale(1 1.044)" class="yl">21p</text>
<text transform="translate(135.59 2365.2) scale(1 1.044)" class="yl">21q</text>
<text transform="translate(135.59 2383.2) scale(1 1.044)" class="yl">22q</text>
<path d="M162.75 2385.12V2393.72M230.05 2385.12V2393.72M297.35 2385.12V2393.72M364.65 2385.12V2393.72M431.95 2385.12V2393.72M475.9 2385.12V2393.72M543.2 2385.12V2393.72M610.5 2385.12V2393.72M677.8 2385.12V2393.72M745.1 2385.12V2393.72M789.05 2385.12V2393.72M856.35 2385.12V2393.72M923.65 2385.12V2393.72M990.95 2385.12V2393.72M1058.25 2385.12V2393.72M1102.2 2385.12V2393.72M1169.5 2385.12V2393.72M1236.8 2385.12V2393.72M1304.1 2385.12V2393.72M1371.4 2385.12V2393.72" stroke="#333333" stroke-width="3.3" fill="none"/>
<text transform="translate(162.75 2400.92) rotate(-45)" x="0" y="17.76" class="xl">0.00</text>
<text transform="translate(230.05 2400.92) rotate(-45)" x="0" y="17.76" class="xl">0.25</text>
<text transform="translate(297.35 2400.92) rotate(-45)" x="0" y="17.76" class="xl">0.50</text>
<text transform="translate(364.65 2400.92) rotate(-45)" x="0" y="17.76" class="xl">0.75</text>
<text transform="translate(431.95 2400.92) rotate(-45)" x="0" y="17.76" class="xl">1.00</text>
<text transform="translate(475.9 2400.92) rotate(-45)" x="0" y="17.76" class="xl">0.00</text>
<text transform="translate(543.2 2400.92) rotate(-45)" x="0" y="17.76" class="xl">0.25</text>
<text transform="translate(610.5 2400.92) rotate(-45)" x="0" y="17.76" class="xl">0.50</text>
<text transform="translate(677.8 2400.92) rotate(-45)" x="0" y="17.76" class="xl">0.75</text>
<text transform="translate(745.1 2400.92) rotate(-45)" x="0" y="17.76" class="xl">1.00</text>
<text transform="translate(789.05 2400.92) rotate(-45)" x="0" y="17.76" class="xl">0.00</text>
<text transform="translate(856.35 2400.92) rotate(-45)" x="0" y="17.76" class="xl">0.25</text>
<text transform="translate(923.65 2400.92) rotate(-45)" x="0" y="17.76" class="xl">0.50</text>
<text transform="translate(990.95 2400.92) rotate(-45)" x="0" y="17.76" class="xl">0.75</text>
<text transform="translate(1058.25 2400.92) rotate(-45)" x="0" y="17.76" class="xl">1.00</text>
<text transform="translate(1102.2 2400.92) rotate(-45)" x="0" y="17.76" class="xl">0.00</text>
<text transform="translate(1169.5 2400.92) rotate(-45)" x="0" y="17.76" class="xl">0.25</text>
<text transform="translate(1236.8 2400.92) rotate(-45)" x="0" y="17.76" class="xl">0.50</text>
<text transform="translate(1304.1 2400.92) rotate(-45)" x="0" y="17.76" class="xl">0.75</text>
<text transform="translate(1371.4 2400.92) rotate(-45)" x="0" y="17.76" class="xl">1.00</text>
<text x="767.07" y="2483.9" class="ti">frequency</text>
</svg>
</body></html>
